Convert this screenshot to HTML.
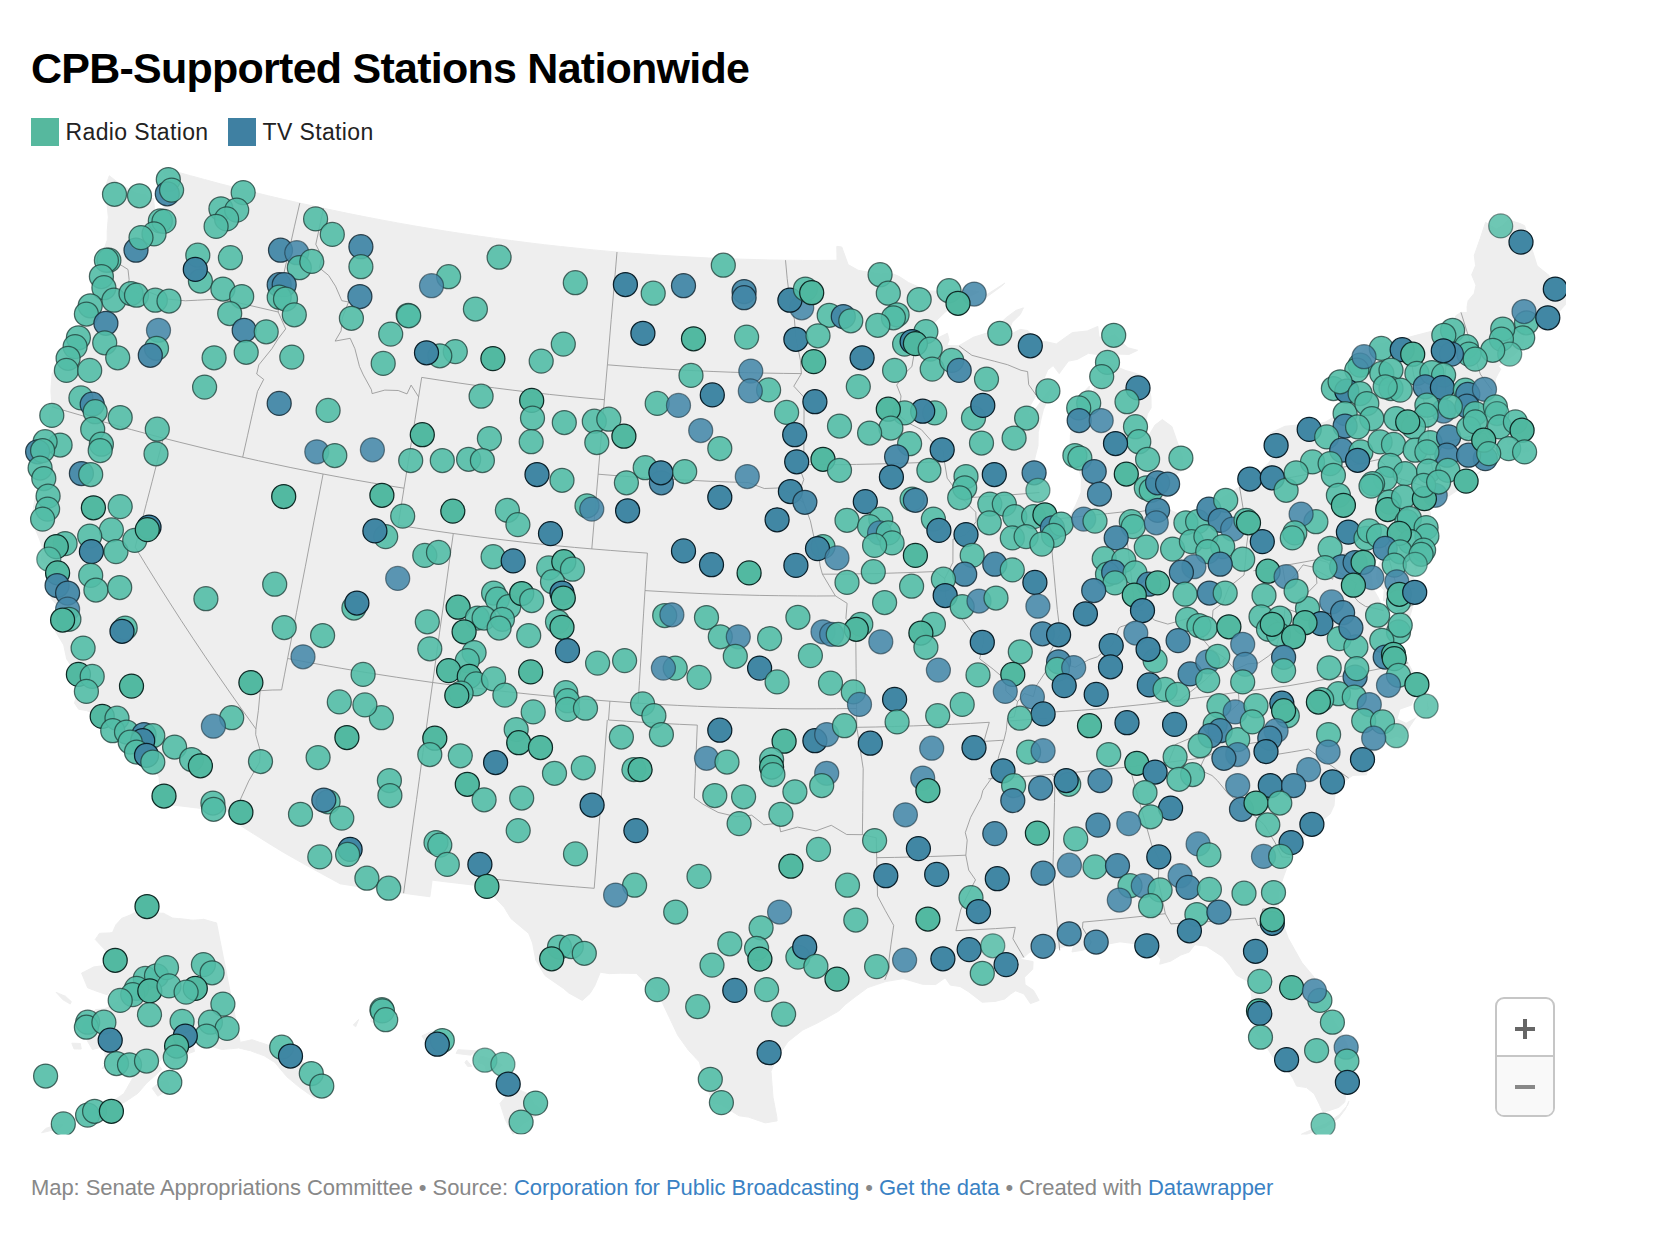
<!DOCTYPE html>
<html lang="en">
<head>
<meta charset="utf-8">
<title>CPB-Supported Stations Nationwide</title>
<style>
html,body{margin:0;padding:0;background:#fff;}
body{width:1662px;height:1234px;position:relative;overflow:hidden;font-family:"Liberation Sans",Arial,sans-serif;}
#title{position:absolute;left:31px;top:40px;margin:0;font-size:43px;line-height:56px;font-weight:700;color:#000;white-space:nowrap;letter-spacing:-0.75px;transform-origin:0 50%;}
.leg{position:absolute;top:118px;height:28px;line-height:28px;font-size:23px;letter-spacing:0.38px;color:#222;white-space:nowrap;}
.leg i{position:absolute;left:0;top:0;width:28px;height:28px;display:block;}
.leg span{position:absolute;left:34.5px;top:0;}
#foot{position:absolute;left:31px;top:1173px;font-size:22px;letter-spacing:-0.06px;line-height:30px;color:#888;white-space:nowrap;}
#foot a{color:#3a82c4;text-decoration:none;}
#zoom{position:absolute;left:1495px;top:997px;width:56px;height:116px;border:2px solid #c6c6c6;border-radius:9px;background:#fff;overflow:hidden;}
#zoom .m{position:absolute;left:0;top:56px;width:56px;height:60px;background:#f9f9f9;border-top:2px solid #c6c6c6;}
#zoom b{position:absolute;display:block;}
#map{position:absolute;left:0;top:0;}
</style>
</head>
<body>
<h1 id="title">CPB-Supported Stations Nationwide</h1>
<div class="leg" style="left:31px"><i style="background:#56b89e"></i><span>Radio Station</span></div>
<div class="leg" style="left:228px"><i style="background:#3f80a2"></i><span>TV Station</span></div>
<svg id="map" width="1662" height="1234" viewBox="0 0 1662 1234">
<defs><clipPath id="mc"><rect x="0" y="160" width="1566" height="974.5"/></clipPath></defs>
<g clip-path="url(#mc)">
<path d="M109.3 175.7L119.2 183.4L131.4 190.5L137.5 193.9L145.5 194.3L149.5 198.6L153.6 198.6L154.4 207.7L153.3 218.9L150.2 229.6L139.6 234.2L153.2 231.2L157.4 220.1L164.1 208.5L162.3 196.5L162.4 186.9L165.7 178.3L162.5 167.8L176.5 171.8L190.5 175.7L204.5 179.5L220.4 183.8L236.4 187.9L252.4 191.9L268.4 195.8L284.5 199.6L300.5 203.2L316.7 206.8L332.8 210.2L348.9 213.6L365.1 216.8L381.3 219.9L397.5 222.9L413.8 225.8L430.0 228.5L446.3 231.2L462.6 233.7L478.9 236.1L495.3 238.4L511.6 240.6L528.0 242.7L544.4 244.7L560.8 246.5L577.2 248.2L593.6 249.9L610.0 251.4L626.4 252.8L642.9 254.0L659.3 255.2L675.8 256.2L692.3 257.1L708.7 258.0L725.2 258.7L741.7 259.2L756.3 259.6L770.9 260.0L785.5 260.2L802.6 260.4L819.8 260.4L837.0 260.3L836.8 246.3L841.8 247.0L848.1 264.6L858.2 270.3L869.4 272.3L880.6 274.2L890.6 272.8L899.4 276.6L908.4 282.5L918.6 286.9L928.8 290.9L941.4 291.4L947.6 289.9L963.9 289.0L979.1 291.7L969.0 297.0L958.9 302.2L945.0 312.3L936.1 320.9L926.4 331.0L915.8 340.4L921.0 343.1L936.2 338.7L947.4 333.3L949.1 339.9L946.8 345.6L959.2 345.6L973.3 337.3L986.6 333.1L995.7 327.6L1006.4 317.5L1016.0 310.4L1023.4 307.9L1020.2 314.5L1011.9 322.6L1008.8 332.2L1009.1 335.1L1020.2 329.4L1028.0 330.6L1036.6 341.0L1047.0 341.9L1056.3 344.0L1067.1 336.2L1072.4 332.6L1087.2 331.0L1097.8 326.4L1099.0 337.1L1108.6 337.1L1114.8 334.5L1121.7 342.2L1128.1 347.8L1137.6 350.3L1129.0 354.4L1117.2 354.0L1108.1 358.9L1100.3 354.9L1088.4 353.3L1077.3 359.4L1068.4 361.1L1061.5 370.4L1059.2 373.6L1053.2 365.6L1047.8 369.8L1041.8 383.5L1036.2 395.2L1030.5 405.0L1027.5 416.5L1036.1 408.3L1043.1 398.3L1051.8 387.0L1048.4 397.8L1043.4 409.5L1041.0 419.1L1038.2 432.5L1038.0 445.6L1034.6 459.1L1034.9 472.6L1038.9 489.5L1040.4 503.7L1046.3 515.2L1051.7 522.3L1057.4 524.0L1064.0 521.1L1069.7 516.8L1076.2 504.1L1081.1 492.3L1081.5 478.0L1076.3 461.6L1070.1 448.3L1070.4 435.1L1072.7 423.6L1073.6 409.2L1077.5 398.7L1089.4 386.1L1088.6 395.6L1089.9 402.2L1092.8 393.3L1096.3 381.6L1104.3 378.1L1099.4 370.0L1107.7 362.3L1115.5 366.2L1125.8 370.6L1133.4 372.6L1144.5 376.4L1145.3 384.6L1149.2 388.2L1151.0 397.4L1151.1 407.9L1147.3 414.1L1145.8 422.6L1139.6 427.1L1139.9 439.6L1148.8 435.4L1155.0 425.1L1162.3 419.6L1171.9 426.6L1177.5 442.8L1182.6 457.9L1182.0 470.5L1174.7 475.3L1172.1 482.5L1167.8 485.7L1167.8 495.2L1163.6 501.4L1160.8 509.4L1171.2 510.6L1183.1 515.8L1190.3 516.7L1202.1 511.2L1210.3 509.9L1220.3 498.9L1232.5 491.3L1241.3 485.5L1250.1 479.6L1258.4 472.9L1268.6 463.1L1274.6 453.6L1278.0 446.2L1271.6 439.7L1270.4 433.1L1284.8 426.3L1300.9 424.7L1309.4 425.8L1325.2 422.2L1332.5 417.7L1336.9 412.6L1344.2 407.6L1339.7 397.1L1342.0 390.9L1335.8 387.2L1345.4 377.5L1353.3 361.7L1359.6 353.4L1366.4 347.3L1371.5 346.1L1388.9 342.1L1406.3 337.9L1417.0 335.1L1427.7 332.3L1440.4 329.0L1453.1 325.7L1455.9 315.7L1461.0 312.4L1467.3 312.6L1467.1 306.9L1468.1 300.8L1474.2 293.4L1476.0 285.2L1471.7 274.8L1475.6 265.6L1474.3 255.2L1480.2 238.5L1485.6 222.3L1496.1 229.2L1502.9 225.3L1508.4 219.8L1520.2 223.6L1524.6 225.7L1531.0 245.9L1537.1 265.8L1549.0 275.4L1551.8 286.2L1557.9 289.0L1568.5 296.6L1570.3 299.5L1562.0 308.4L1557.0 314.6L1547.2 323.5L1542.3 330.0L1534.3 326.6L1532.1 333.1L1526.1 327.0L1523.9 333.5L1523.6 342.2L1517.8 350.9L1512.4 356.3L1505.2 360.3L1498.4 366.1L1500.7 369.3L1497.9 374.0L1495.7 378.5L1494.0 387.5L1492.0 390.3L1491.3 397.1L1492.2 400.4L1496.2 403.6L1499.2 404.3L1497.3 407.9L1493.5 411.3L1491.7 418.4L1494.8 419.5L1500.6 421.8L1504.9 430.3L1510.6 435.4L1516.5 436.1L1522.6 432.4L1521.0 426.7L1515.8 423.4L1515.5 422.4L1521.1 423.9L1525.5 430.5L1526.3 435.3L1518.0 439.6L1509.7 445.0L1507.5 443.2L1507.0 437.9L1501.1 445.0L1498.1 449.7L1495.0 452.1L1492.9 446.4L1489.8 443.3L1486.4 441.1L1487.8 448.5L1489.0 454.1L1488.5 457.7L1478.7 461.8L1472.4 464.2L1466.0 467.0L1451.1 470.7L1444.3 476.7L1436.0 483.7L1430.6 490.0L1428.2 494.4L1425.8 498.9L1421.8 503.7L1421.4 508.4L1428.3 507.1L1430.4 513.2L1430.9 526.6L1431.8 534.1L1428.4 544.6L1426.3 550.5L1420.1 561.9L1415.6 569.5L1414.2 563.3L1405.4 559.4L1396.7 555.6L1392.9 548.7L1392.5 544.2L1393.5 554.4L1400.3 562.5L1401.5 568.0L1412.2 575.3L1413.6 578.8L1416.4 592.5L1412.0 608.8L1406.9 626.5L1401.3 642.3L1397.9 636.1L1397.5 624.7L1400.4 610.6L1396.5 610.3L1392.4 600.8L1383.5 600.7L1384.2 590.2L1378.6 584.5L1376.2 577.3L1377.4 567.4L1381.4 558.9L1380.8 553.3L1378.4 558.8L1369.1 567.2L1371.8 577.4L1372.5 587.7L1378.5 598.0L1383.5 610.7L1370.1 607.4L1362.2 605.1L1373.3 608.6L1386.6 615.5L1387.5 626.8L1389.8 637.8L1392.1 648.9L1394.0 650.4L1401.3 649.6L1402.8 652.4L1408.1 662.8L1416.8 679.4L1424.2 689.3L1428.5 709.1L1416.3 716.8L1408.8 728.0L1403.9 738.6L1396.6 736.3L1386.5 740.2L1379.9 746.1L1372.7 753.7L1368.9 760.9L1366.5 774.8L1352.9 775.4L1348.7 778.1L1339.9 786.2L1334.8 795.9L1334.0 805.6L1330.1 813.9L1315.8 825.9L1303.3 838.3L1300.7 845.5L1293.1 853.2L1290.2 858.6L1282.8 878.7L1278.1 893.5L1278.6 907.8L1279.7 910.6L1283.1 924.1L1288.3 938.4L1295.1 950.5L1301.9 962.6L1313.0 975.9L1321.5 987.3L1322.5 1001.5L1331.9 1016.1L1335.1 1023.1L1340.9 1031.5L1345.8 1040.8L1348.6 1048.9L1350.0 1071.2L1350.9 1083.0L1346.3 1090.5L1344.8 1102.0L1338.8 1107.4L1327.3 1111.2L1323.0 1112.2L1319.3 1104.2L1314.2 1093.8L1306.4 1087.6L1296.6 1086.1L1293.1 1078.8L1286.4 1068.2L1281.5 1069.7L1275.1 1060.5L1266.4 1046.8L1260.9 1039.0L1254.6 1032.4L1259.9 1025.3L1260.5 1017.7L1253.7 1026.2L1249.4 1016.7L1249.4 1009.9L1251.8 996.4L1248.8 981.9L1236.3 975.0L1230.1 965.7L1222.3 956.5L1206.3 946.2L1194.8 944.7L1189.2 952.1L1180.8 955.0L1170.8 961.1L1159.7 964.2L1160.8 959.2L1156.3 954.1L1145.7 948.9L1133.2 943.5L1120.1 941.8L1099.5 945.7L1087.9 948.6L1082.2 950.3L1072.0 951.9L1074.4 941.6L1070.3 935.2L1067.3 945.9L1054.7 948.8L1043.4 948.2L1037.1 949.4L1029.2 952.6L1023.8 957.4L1018.4 958.9L1033.1 961.6L1032.7 969.2L1024.5 977.2L1025.0 984.6L1033.5 990.4L1039.1 1000.4L1030.5 1003.6L1024.0 994.0L1015.6 990.8L1010.9 993.8L1004.7 999.0L995.1 1001.4L982.1 1002.2L975.3 996.9L968.5 991.7L960.1 986.5L950.3 985.1L945.2 977.8L935.7 984.5L922.7 984.3L903.2 978.6L885.4 981.6L867.8 987.6L854.9 997.1L845.2 1004.6L838.8 1011.0L827.9 1017.2L816.9 1023.3L802.8 1030.0L787.9 1041.8L781.2 1051.7L775.5 1060.2L771.0 1071.3L772.0 1084.2L773.0 1097.2L776.8 1116.8L777.1 1120.9L765.2 1122.9L748.4 1117.1L739.0 1115.8L721.1 1104.6L713.4 1103.2L705.6 1084.5L699.4 1062.0L688.6 1050.5L677.7 1035.2L668.7 1016.1L662.8 1003.6L656.9 991.0L645.9 983.3L636.4 973.4L620.6 973.2L609.2 973.6L600.3 972.2L594.8 985.6L590.0 993.5L582.3 1000.4L568.8 993.0L563.6 988.5L545.1 975.7L535.8 960.3L532.6 943.1L528.7 933.4L510.9 918.5L504.1 907.3L494.9 897.5L485.8 887.6L484.7 886.4L471.1 884.8L457.4 883.2L444.8 881.7L432.1 880.1L429.9 896.7L416.7 895.0L403.6 893.2L388.6 891.1L373.7 888.9L357.0 886.4L340.2 883.8L321.3 873.5L302.4 863.1L283.7 852.5L266.4 841.9L249.2 831.1L232.1 820.2L236.5 812.3L216.6 810.2L196.7 807.9L179.3 805.8L161.8 803.7L159.3 797.7L159.9 791.0L159.2 777.3L152.1 765.7L147.3 759.2L139.6 751.6L133.5 750.5L132.9 739.9L123.9 738.1L113.3 729.7L111.4 724.6L100.8 716.9L86.7 710.6L78.6 709.2L74.5 703.1L80.1 684.4L75.7 672.7L66.7 659.0L63.7 644.9L55.2 630.9L58.3 620.0L57.8 618.3L63.4 613.6L58.1 606.3L51.1 598.4L50.5 582.6L53.1 572.4L54.4 570.8L41.1 560.3L42.9 549.1L40.0 540.4L31.6 520.2L34.4 502.2L37.6 488.7L29.0 468.4L29.5 461.0L39.0 449.8L43.1 441.3L49.6 427.5L49.5 415.7L52.0 406.7L50.9 390.7L52.1 373.8L63.4 357.3L70.8 345.9L75.9 335.7L84.3 313.6L89.2 301.9L94.2 289.0L100.5 269.1L102.3 256.0L104.8 247.1L107.2 240.1L107.2 231.1L108.3 217.1L107.1 205.1L105.9 193.2L106.6 183.3L109.3 175.7ZM1427.4 503.1L1431.6 502.5L1441.0 499.5L1448.8 496.1L1459.9 488.7L1465.9 483.7L1481.0 470.9L1475.2 475.1L1469.9 470.2L1462.0 479.6L1453.9 481.7L1449.3 483.2L1440.8 486.8L1438.2 488.2L1432.3 493.5L1429.8 494.8L1426.4 498.7L1427.4 503.1ZM1526.5 446.2L1530.0 450.6L1523.9 452.4L1522.0 450.9L1526.5 446.2ZM1511.0 447.4L1515.6 450.7L1507.0 453.9L1507.5 450.3L1511.0 447.4ZM1348.8 1101.3L1345.3 1109.3L1338.8 1117.9L1326.3 1126.6L1314.8 1131.0L1301.8 1136.7L1301.4 1134.1L1314.4 1128.4L1325.8 1123.7L1339.3 1114.8L1347.7 1105.2L1348.8 1101.3ZM1004.9 283.1L1001.4 286.3L987.1 296.7L986.4 294.9L995.7 289.0L1004.9 283.1ZM329.8 1092.9L324.8 1094.6L319.9 1096.4L314.9 1098.1L309.4 1094.4L304.1 1090.6L298.8 1086.8L294.8 1083.5L290.8 1080.1L286.8 1076.7L282.8 1072.0L278.8 1067.2L274.9 1062.4L271.2 1060.2L267.6 1058.0L264.1 1055.7L259.5 1054.1L255.1 1052.5L250.6 1050.8L246.6 1049.9L242.6 1048.9L238.6 1047.9L234.4 1048.4L230.2 1048.8L226.0 1049.1L221.8 1049.5L217.7 1048.3L213.6 1047.1L209.5 1045.9L207.2 1042.2L204.8 1038.5L200.7 1039.9L196.6 1041.1L192.5 1042.4L193.5 1046.9L194.6 1051.4L190.8 1052.7L187.0 1054.0L183.2 1056.7L179.4 1059.3L175.6 1062.0L171.7 1064.6L173.5 1059.3L173.9 1053.0L174.3 1046.8L176.9 1043.9L179.5 1040.9L182.1 1037.9L178.4 1039.8L174.7 1041.8L171.0 1043.7L168.3 1049.0L165.5 1054.3L161.7 1058.9L157.7 1063.5L159.7 1066.4L161.8 1069.4L158.1 1072.8L154.3 1076.3L150.5 1079.7L146.7 1083.0L143.8 1086.4L140.9 1089.8L138.0 1093.2L133.8 1096.1L129.6 1098.9L125.3 1101.7L121.8 1103.6L118.2 1105.5L114.7 1107.4L110.0 1110.2L105.2 1113.0L101.0 1113.4L96.7 1113.8L92.4 1114.1L89.4 1116.4L86.5 1118.6L81.3 1119.8L76.2 1121.0L77.9 1114.7L82.1 1114.7L86.3 1114.6L91.3 1112.4L96.3 1110.0L101.2 1107.7L106.1 1105.3L110.6 1102.4L115.0 1099.6L119.4 1096.7L123.7 1093.7L126.9 1088.3L130.0 1082.8L133.1 1077.3L135.0 1074.1L136.8 1070.9L133.5 1069.4L130.2 1067.9L127.0 1066.4L125.4 1070.2L123.7 1074.1L120.6 1071.2L117.4 1068.3L114.3 1065.4L110.3 1066.5L106.2 1067.6L102.1 1068.6L105.8 1063.2L105.4 1058.5L104.9 1053.8L103.7 1050.4L102.5 1046.9L99.2 1047.8L95.8 1048.7L92.4 1049.5L89.8 1045.1L87.3 1040.7L85.6 1036.4L84.0 1032.2L82.5 1027.9L83.2 1024.1L87.4 1019.5L91.6 1014.9L95.5 1009.6L98.5 1009.4L101.5 1009.2L104.5 1008.9L107.6 1007.4L110.8 1005.8L114.5 1003.6L118.2 1001.4L118.2 996.1L118.2 990.9L115.4 991.0L112.5 991.1L109.7 991.2L107.5 994.8L104.0 993.7L100.5 992.5L96.9 991.3L93.5 990.0L90.5 988.9L87.6 987.7L85.6 982.8L83.6 978.0L81.6 973.1L84.7 971.6L87.7 970.1L90.7 968.5L93.7 966.9L97.0 966.5L100.3 966.1L103.5 965.6L106.8 965.1L105.4 970.9L108.2 971.5L111.1 972.0L113.9 970.9L116.7 969.7L118.7 968.0L120.8 966.3L118.2 964.7L115.6 963.1L113.0 961.4L110.4 959.8L107.8 958.1L106.4 953.9L105.0 949.8L102.5 947.2L100.1 944.7L97.7 942.1L95.3 939.5L97.4 936.4L99.4 933.4L102.7 933.2L106.0 933.1L109.2 932.9L112.5 932.6L114.2 928.7L116.0 924.7L118.9 921.5L121.8 918.3L124.8 917.2L127.7 916.0L130.7 914.8L133.3 913.4L136.0 912.1L138.6 910.7L141.3 909.3L143.8 907.9L146.4 906.5L149.2 908.6L152.0 910.7L154.9 912.8L157.8 913.0L160.7 913.2L163.6 913.3L166.6 914.9L169.6 916.5L172.6 918.1L175.6 918.4L178.6 918.6L181.6 918.8L184.5 919.2L187.3 919.5L190.2 919.9L193.0 920.2L195.7 920.0L198.4 919.8L201.1 919.6L203.8 919.3L207.0 920.3L210.1 921.2L213.3 922.1L216.5 922.9L218.2 931.3L219.8 939.7L221.5 948.1L223.2 956.6L224.9 965.0L226.6 973.5L228.2 982.0L229.9 990.6L231.6 999.2L233.4 1007.8L235.1 1016.4L236.8 1025.0L238.5 1033.6L240.2 1042.3L244.2 1041.5L248.2 1040.6L252.1 1039.7L256.0 1041.1L259.9 1042.4L263.8 1043.6L267.8 1045.0L271.9 1046.2L274.2 1043.3L276.4 1040.2L278.9 1042.9L281.4 1045.6L285.9 1047.0L290.5 1048.3L295.1 1053.7L297.9 1056.9L300.8 1060.1L305.1 1064.2L309.4 1068.2L313.1 1072.5L317.5 1073.3L321.8 1074.0L326.2 1074.7L328.5 1076.6L331.3 1084.0L330.5 1088.4L329.8 1092.9ZM167.4 1080.4L169.7 1088.2L165.8 1090.9L161.8 1093.6L157.8 1096.2L155.0 1092.3L152.2 1088.3L156.0 1085.1L159.8 1081.8L163.6 1081.1L167.4 1080.4ZM80.3 1043.5L81.3 1049.0L77.6 1049.0L74.0 1048.9L71.8 1043.2L76.0 1043.3L80.3 1043.5ZM56.2 992.4L58.4 994.8L60.6 997.2L62.8 999.6L65.2 1001.1L67.7 1002.5L70.2 1004.0L71.3 1001.6L68.3 998.9L65.4 996.2L62.3 995.0L59.3 993.7L56.2 992.4ZM63.2 1124.0L59.0 1129.8L54.5 1130.3L50.1 1130.7L45.8 1131.8L41.6 1132.8L45.8 1128.4L49.8 1127.1L53.7 1125.7L57.7 1124.3L60.5 1124.1L63.2 1124.0ZM86.2 1115.3L83.8 1118.5L81.4 1121.8L78.2 1120.3L75.0 1118.8L78.8 1114.1L82.5 1114.7L86.2 1115.3ZM507.0 1084.0L528.1 1093.9L534.1 1103.9L543.3 1111.6L523.0 1123.7L513.2 1134.5L505.4 1120.1L500.0 1103.4L507.7 1094.1L507.0 1084.0ZM480.6 1056.0L492.9 1059.6L502.3 1065.2L494.6 1071.1L486.9 1071.9L484.8 1065.2L477.8 1061.9L480.6 1056.0ZM432.4 1031.1L440.4 1040.4L443.9 1046.0L438.6 1047.4L428.2 1045.9L421.9 1035.9L432.4 1031.1ZM379.6 1011.2L386.5 1014.2L385.4 1021.6L379.5 1024.5L370.8 1021.5L371.5 1014.1L379.6 1011.2ZM457.9 1049.7L476.4 1050.8L470.8 1055.2L456.1 1053.4L457.9 1049.7ZM466.6 1060.1L471.9 1066.3L467.7 1066.4L464.9 1062.6L466.6 1060.1ZM358.6 1019.5L355.7 1026.8L353.3 1024.9L358.6 1019.5Z" fill="#eeeeee" stroke="#eeeeee" stroke-width="1" stroke-linejoin="round"/>
<path d="M1421.9 688.7L1414.7 697.9L1411.7 705.5L1400.3 709.4L1397.6 718.8L1406.1 722.8L1415.3 717.8L1426.1 710.8L1427.4 708.2L1426.9 697.2L1421.9 688.7ZM1411.8 677.4L1400.5 681.1L1389.0 684.9L1390.0 689.7L1401.7 687.2L1413.4 684.7L1411.8 677.4Z" fill="#ffffff"/>
<path d="M103.6 256.4L115.4 261.9L122.3 265.9L128.0 269.5L129.1 279.5L127.8 288.8L141.1 294.5L149.8 292.4L158.3 295.7L166.9 299.0L176.1 299.9L185.3 300.8L197.5 300.2L209.8 299.5L226.3 299.8L243.6 304.0L260.9 308.0L278.2 312.0M299.8 203.1L294.5 226.2L289.3 249.5L284.0 272.7L278.6 296.1L278.2 312.0M278.2 312.0L285.7 328.9L278.2 338.7L271.9 348.7L258.8 364.9L256.7 374.0L263.7 379.4L257.5 391.4L252.5 413.3L247.6 435.3L242.7 457.2M52.0 406.7L67.8 411.5L83.6 416.1L99.5 420.7L115.4 425.2L131.4 429.6L147.3 433.9L163.3 438.1L179.1 442.1L195.0 446.0L210.8 449.9L226.7 453.6L242.7 457.2L258.7 460.8L274.8 464.2L290.9 467.6L307.0 470.8L323.1 474.0L339.2 477.0L355.4 480.0L371.6 482.8L387.8 485.6L404.0 488.2M163.3 438.1L157.7 459.9L152.1 481.7L146.4 503.5L140.8 525.3L135.2 547.2L146.4 565.6L157.8 583.9L169.4 602.2L181.2 620.5L193.2 638.7L205.4 656.9L217.8 675.0L230.3 693.0L243.0 711.0L255.9 728.9M255.9 728.9L258.4 710.3L260.2 690.7L272.2 690.0L281.6 689.9L284.6 674.2L287.6 658.5L292.1 635.5L296.5 612.4L300.9 589.3L305.4 566.2L309.8 543.1L314.2 520.1L318.7 497.0L323.1 474.0M255.9 728.9L255.7 734.6L260.3 750.9L259.6 762.2L248.7 781.1L239.2 802.1L236.5 812.3M287.6 658.5L305.7 661.9L323.8 665.2L341.9 668.4L360.0 671.5L378.1 674.4L396.3 677.2L414.5 679.9L432.7 682.5L452.3 685.1L471.9 687.6L491.6 690.0L511.3 692.2L531.0 694.3L550.7 696.2L570.4 698.0L590.1 699.7L609.9 701.2L624.0 702.2L638.1 703.2L657.9 704.4L677.8 705.4L697.6 706.3L717.5 707.1L737.4 707.7L757.2 708.2L777.1 708.6L797.0 708.8L816.8 708.8L836.7 708.7L856.6 708.5M403.6 893.2L406.8 869.9L410.0 846.5L413.2 823.1L416.5 799.7L419.7 776.3L422.9 752.8L426.2 729.4L429.4 705.9L432.7 682.5L436.1 657.6L439.5 632.8L443.0 608.0L446.4 583.1L449.8 558.3L453.3 533.5M404.0 488.2L401.1 506.7L398.1 525.3L416.5 528.1L434.9 530.9L453.3 533.5L470.5 535.8L487.8 538.0L505.1 540.1L522.4 542.1L539.7 544.0L557.1 545.8L574.4 547.4L591.8 548.9L610.3 550.4L628.8 551.8L647.4 553.1L646.2 571.8L645.0 590.6L643.6 613.1L642.2 635.6L640.9 658.1L639.5 680.6L638.1 703.2M404.0 488.2L407.7 465.4L411.3 442.5L415.0 419.7L418.6 396.9L421.7 377.4L439.9 380.2L458.1 382.9L476.4 385.5L494.6 387.9L512.9 390.2L531.2 392.4L549.5 394.4L567.8 396.3L586.1 398.1L604.4 399.7M323.5 208.3L319.7 226.3L315.8 244.3L322.1 257.0L319.3 267.8L328.6 275.4L335.5 286.2L341.8 300.7L348.6 302.0L342.3 317.9L341.1 330.9L335.1 341.1L350.2 338.3L354.9 348.7L359.5 366.6L363.3 374.9L371.4 389.7L372.1 393.6L384.8 390.1L398.2 390.5L407.0 393.9L411.1 385.1L418.6 396.9M617.0 252.0L615.1 274.4L613.2 297.0L611.2 319.5L609.3 342.1L607.4 364.8L605.9 382.2L604.4 399.7L602.3 424.5L600.2 449.3L598.1 474.2L596.0 499.1L593.9 524.0L591.8 548.9M607.4 364.8L625.0 366.2L642.6 367.5L660.2 368.7L677.9 369.8L695.5 370.7L713.1 371.5L730.8 372.2L748.4 372.7L766.1 373.1L783.7 373.4L801.4 373.6M598.1 474.2L616.8 475.7L635.6 477.1L654.3 478.3L673.1 479.4L691.9 480.4L710.6 481.3L729.4 482.0L748.2 482.5L764.3 488.5L777.9 488.0L788.7 492.3L803.6 502.5M645.0 590.6L664.0 591.7L683.0 592.7L702.1 593.6L721.1 594.3L740.2 594.9L759.2 595.4L778.3 595.7L797.3 595.9L816.4 596.0L835.4 595.9M609.9 701.2L608.5 720.0L626.3 721.2L644.0 722.4L661.8 723.4L679.5 724.3L697.3 725.1L696.3 749.4L695.3 773.7L694.3 798.0L703.1 804.3L718.1 812.4L736.4 816.7L751.7 815.2L763.8 824.8L779.1 823.2L780.6 831.8L797.5 827.1L815.9 830.9L831.3 825.3L846.7 834.5L862.4 834.7L876.3 837.8L876.7 857.7L877.1 876.8L877.5 895.9L885.4 910.7L893.7 925.4L891.0 944.2L889.1 959.2L889.3 968.5L884.8 979.8M482.8 877.9L501.3 879.9L519.9 881.8L538.4 883.6L557.0 885.3L575.6 886.8L594.2 888.3L596.1 864.3L597.9 840.3L599.8 816.2L601.7 792.2L603.6 768.1L605.4 744.0L607.3 719.9M785.5 260.2L787.2 278.6L789.5 297.1L794.4 319.4L796.0 338.6L800.4 360.2L801.4 373.6L793.8 386.2L804.1 397.4L804.0 419.8L803.9 442.2L803.8 464.7L801.1 472.1L803.8 479.6L799.6 490.9L803.6 502.5M803.8 464.7L821.4 464.7L839.0 464.6L856.6 464.4L874.1 464.0L891.7 463.6L909.3 463.0L926.9 462.3L944.4 461.5M803.6 502.5L810.4 520.9L814.5 539.7L817.9 548.7L820.1 565.9L822.4 574.2L828.9 585.1L835.4 595.9L847.1 603.3L845.9 618.4L855.7 629.2L855.9 649.0L856.1 668.9L856.4 688.7L856.6 708.5L856.8 727.3L860.0 748.0L863.2 768.6L862.9 790.6L862.7 812.7L862.4 834.7M822.4 574.2L841.3 574.1L860.1 573.8L879.0 573.5L897.9 572.9L916.8 572.3L935.6 571.5L944.7 578.6M856.8 727.3L875.8 727.0L894.7 726.5L913.6 725.9L932.6 725.2L951.5 724.4L970.4 723.4L989.3 722.3L983.9 741.4L1003.9 740.2M915.9 343.3L911.9 366.6L906.7 371.6L896.7 385.0L901.0 396.0L900.0 405.4L900.4 416.6L908.6 423.0L921.3 429.6L931.9 441.5L943.0 450.3L944.4 461.5L947.2 478.2L954.5 488.1L961.8 498.0L975.8 512.2L976.1 521.6L966.1 534.6L953.0 539.1L952.9 562.4L944.7 578.6L945.5 595.5L947.9 604.1L961.5 618.4L972.3 632.9L983.8 633.3L983.5 642.4L979.6 658.8L993.3 669.3L1005.7 679.8L1005.9 691.1L1017.6 701.6L1014.2 716.9L1007.5 718.1L1006.2 730.6L1003.9 740.2L998.9 755.6L994.9 773.5L982.9 790.4L980.9 798.1L970.6 817.4L965.3 832.7L967.2 840.2L965.8 855.2L968.7 870.1L975.5 879.9L966.9 896.4L960.7 909.9L955.9 930.7L975.7 929.7L995.5 928.6L1015.3 927.3L1012.9 938.7L1023.8 957.4M876.7 857.7L894.6 857.4L912.4 857.0L930.2 856.5L948.0 855.9L965.8 855.2M959.2 346.0L971.9 355.3L983.1 358.3L994.3 361.2L1007.5 364.7L1021.0 370.3L1027.6 371.6L1028.7 384.6L1036.2 395.2M961.8 498.0L977.4 497.1L992.9 496.1L1008.4 495.0L1023.9 493.8L1039.4 492.5M1047.9 669.0L1049.0 653.8L1060.3 633.9L1057.3 609.7L1055.2 587.1L1053.2 564.6L1051.2 542.0L1049.2 519.5M1135.3 611.0L1132.5 586.8L1129.7 562.5L1126.9 538.2L1124.1 514.0M1058.3 518.7L1074.7 517.1L1091.1 515.4L1107.4 513.6L1123.8 511.8L1124.1 514.0L1142.6 511.2L1161.2 508.2M1017.6 701.6L1024.3 693.5L1033.4 696.6L1036.1 686.2L1044.8 673.0L1047.9 669.0L1060.8 662.2L1075.0 667.3L1088.9 659.6L1097.4 656.8L1105.4 650.3L1112.2 645.1L1119.0 628.0L1120.9 626.7L1135.7 622.3L1135.3 611.0L1144.4 609.9L1154.3 620.1L1167.8 624.1L1178.4 621.2L1188.8 618.2L1201.9 628.2L1212.3 619.8L1213.0 610.2L1222.9 603.0L1226.8 592.2L1229.1 586.9L1244.0 575.0L1245.7 558.8L1246.5 546.1L1247.8 536.7L1243.7 511.9L1239.6 487.1M1201.9 628.2L1203.6 640.1L1210.7 648.6L1224.7 657.9L1216.5 668.6L1205.6 679.7L1195.5 687.9L1179.8 700.2M1008.6 721.0L1022.9 720.0L1037.1 718.9L1051.4 717.8L1050.4 712.2L1065.8 711.2L1081.3 710.2L1096.8 709.1L1113.4 707.5L1130.0 705.8L1146.6 704.1L1163.2 702.2L1179.8 700.2L1199.4 697.6L1218.9 694.9L1238.5 692.0L1254.9 690.1L1271.4 688.0L1287.9 685.9L1308.0 682.4L1328.1 678.8L1348.1 675.0L1368.1 671.1L1388.1 667.0L1408.1 662.8M1238.5 692.0L1239.0 703.3L1228.9 712.4L1214.9 720.1L1201.1 728.9L1190.2 738.3L1175.8 744.3L1168.4 762.3M988.3 778.8L1009.4 777.5L1030.5 776.0L1051.6 774.3L1071.1 772.7L1090.6 770.8L1110.1 768.9L1129.6 766.8L1149.0 764.6L1168.4 762.3L1186.5 760.0L1204.7 757.6M1204.7 757.6L1214.8 752.4L1224.9 747.2L1245.0 744.2L1265.1 741.1L1266.3 744.7L1270.8 747.8L1275.0 754.7L1291.7 752.0L1308.5 749.1L1321.8 758.9L1335.2 768.5L1348.7 778.1M1204.7 757.6L1199.0 769.7L1212.0 775.5L1217.3 780.5L1228.5 794.1L1237.9 801.8L1247.3 809.5L1264.3 824.8L1274.8 842.1L1281.9 856.9L1290.0 857.5M1129.6 766.8L1135.0 786.4L1140.5 805.9L1146.1 825.3L1151.6 844.8L1159.3 859.4L1158.2 880.6L1161.5 895.3L1165.3 913.7L1170.9 923.9L1192.0 922.7L1213.1 921.3L1234.2 919.7L1255.3 918.1L1258.0 925.6L1261.8 924.6L1261.5 916.0L1262.7 909.0L1278.8 908.9M1165.3 913.7L1144.7 916.0L1124.1 918.2L1103.5 920.2L1082.9 922.1L1082.5 927.8L1091.1 942.0L1087.9 948.6M1051.6 774.3L1054.9 777.8L1054.5 802.4L1053.9 826.9L1053.4 851.4L1052.7 875.8L1055.0 900.7L1057.3 925.5L1059.7 950.3M1224.7 657.9L1235.1 669.7L1247.6 663.9L1258.7 662.9L1268.8 655.9L1275.3 649.9L1279.4 635.9L1284.0 619.8L1284.9 608.2L1295.9 612.0L1305.4 595.0L1316.9 583.3L1315.9 570.1L1332.7 579.2L1334.2 571.6M1253.4 570.8L1272.3 567.6L1291.2 564.3L1310.0 560.9L1328.9 557.3L1347.7 553.6L1366.5 549.8L1385.3 545.8M1334.2 571.6L1327.4 562.2L1318.9 560.0L1312.4 567.0L1303.1 564.9L1296.3 573.7L1285.6 585.2L1282.5 565.9M1334.2 571.6L1339.6 572.5L1356.4 583.3L1352.9 595.5L1358.7 602.0L1365.5 606.4L1374.7 608.3L1383.5 610.7M1385.3 545.8L1389.7 541.0L1394.9 540.6M1385.3 545.8L1391.7 568.6L1398.1 591.5L1416.2 587.9M1396.2 611.5L1414.3 604.5M1394.9 540.6L1401.7 533.3L1409.5 521.9L1394.4 509.9L1393.7 506.6L1393.3 495.9L1401.8 479.0L1414.1 483.1L1426.5 487.1M1401.8 479.0L1392.5 475.7L1384.2 464.1L1378.7 459.5L1361.8 463.2L1344.9 466.8L1328.0 470.2L1311.1 473.5L1294.1 476.8L1277.1 479.9L1260.1 482.9L1258.4 472.9M1433.3 485.5L1430.2 482.4L1433.3 473.9L1430.9 460.0L1428.4 446.2L1428.2 432.7L1428.0 419.2L1424.5 403.7L1421.0 388.2L1416.8 388.0L1413.6 374.6L1410.5 356.1L1406.3 337.9M1449.6 414.7L1445.9 393.6L1444.8 378.4L1446.7 358.6L1455.4 344.8L1452.3 335.9L1453.2 326.1M1428.2 420.0L1438.9 417.3L1449.6 414.7L1465.0 411.3L1480.4 407.8L1490.6 398.5M1428.4 446.2L1443.5 442.7L1458.5 439.2L1473.6 435.6L1484.8 433.0L1490.6 443.1L1496.8 450.0M1473.7 436.0L1476.3 448.8L1478.9 461.7M1492.0 390.3L1480.3 374.1L1473.9 353.5L1467.4 333.0L1461.0 312.4" fill="none" stroke="#8f8f8f" stroke-width="0.8" stroke-linejoin="round"/>
<g stroke-width="1.25">
<circle cx="114.5" cy="194.3" r="12.0" fill="#52bca6" fill-opacity="0.9" stroke="#1d3b36" stroke-opacity="0.75"/>
<circle cx="139.5" cy="195.8" r="12.0" fill="#52bca6" fill-opacity="0.9" stroke="#1d3b36" stroke-opacity="0.75"/>
<circle cx="168.3" cy="179.5" r="12.0" fill="#52bca6" fill-opacity="0.9" stroke="#1d3b36" stroke-opacity="0.75"/>
<circle cx="167.3" cy="193.8" r="12.0" fill="#4287a7" fill-opacity="0.95" stroke="#152a36" stroke-opacity="0.85"/>
<circle cx="171.6" cy="190.1" r="12.0" fill="#52bca6" fill-opacity="0.9" stroke="#1d3b36" stroke-opacity="0.75"/>
<circle cx="243.2" cy="192.6" r="12.0" fill="#52bca6" fill-opacity="0.9" stroke="#1d3b36" stroke-opacity="0.75"/>
<circle cx="220.9" cy="208.8" r="12.0" fill="#52bca6" fill-opacity="0.9" stroke="#1d3b36" stroke-opacity="0.75"/>
<circle cx="236.7" cy="210.1" r="12.0" fill="#52bca6" fill-opacity="0.9" stroke="#1d3b36" stroke-opacity="0.75"/>
<circle cx="226.6" cy="218.9" r="12.0" fill="#52bca6" fill-opacity="0.9" stroke="#1d3b36" stroke-opacity="0.75"/>
<circle cx="216.1" cy="226.4" r="12.0" fill="#52bca6" fill-opacity="0.9" stroke="#1d3b36" stroke-opacity="0.75"/>
<circle cx="315.6" cy="218.9" r="12.0" fill="#52bca6" fill-opacity="0.9" stroke="#1d3b36" stroke-opacity="0.75"/>
<circle cx="332.3" cy="234.4" r="12.0" fill="#52bca6" fill-opacity="0.9" stroke="#1d3b36" stroke-opacity="0.75"/>
<circle cx="360.9" cy="246.7" r="12.0" fill="#4287a7" fill-opacity="0.95" stroke="#152a36" stroke-opacity="0.85"/>
<circle cx="360.9" cy="266.7" r="12.0" fill="#52bca6" fill-opacity="0.9" stroke="#1d3b36" stroke-opacity="0.75"/>
<circle cx="359.9" cy="296.5" r="12.0" fill="#4287a7" fill-opacity="0.95" stroke="#152a36" stroke-opacity="0.85"/>
<circle cx="351.4" cy="318.3" r="12.0" fill="#52bca6" fill-opacity="0.9" stroke="#1d3b36" stroke-opacity="0.75"/>
<circle cx="160.3" cy="220.9" r="12.0" fill="#52bca6" fill-opacity="0.9" stroke="#1d3b36" stroke-opacity="0.75"/>
<circle cx="164.0" cy="221.4" r="12.0" fill="#52bca6" fill-opacity="0.9" stroke="#1d3b36" stroke-opacity="0.75"/>
<circle cx="136.0" cy="250.2" r="12.0" fill="#4287a7" fill-opacity="0.95" stroke="#152a36" stroke-opacity="0.85"/>
<circle cx="154.0" cy="233.9" r="12.0" fill="#52bca6" fill-opacity="0.9" stroke="#1d3b36" stroke-opacity="0.75"/>
<circle cx="141.0" cy="237.6" r="12.0" fill="#52bca6" fill-opacity="0.9" stroke="#1d3b36" stroke-opacity="0.75"/>
<circle cx="108.9" cy="260.2" r="12.0" fill="#52bca6" fill-opacity="0.9" stroke="#1d3b36" stroke-opacity="0.75"/>
<circle cx="106.4" cy="260.2" r="12.0" fill="#52bca6" fill-opacity="0.9" stroke="#1d3b36" stroke-opacity="0.75"/>
<circle cx="101.4" cy="276.5" r="12.0" fill="#52bca6" fill-opacity="0.9" stroke="#1d3b36" stroke-opacity="0.75"/>
<circle cx="103.9" cy="287.7" r="12.0" fill="#52bca6" fill-opacity="0.9" stroke="#1d3b36" stroke-opacity="0.75"/>
<circle cx="113.9" cy="300.2" r="12.0" fill="#52bca6" fill-opacity="0.9" stroke="#1d3b36" stroke-opacity="0.75"/>
<circle cx="131.0" cy="293.5" r="12.0" fill="#52bca6" fill-opacity="0.9" stroke="#1d3b36" stroke-opacity="0.75"/>
<circle cx="136.5" cy="295.2" r="12.0" fill="#52bca6" fill-opacity="0.9" stroke="#1d3b36" stroke-opacity="0.75"/>
<circle cx="155.3" cy="300.2" r="12.0" fill="#52bca6" fill-opacity="0.9" stroke="#1d3b36" stroke-opacity="0.75"/>
<circle cx="169.0" cy="301.0" r="12.0" fill="#52bca6" fill-opacity="0.9" stroke="#1d3b36" stroke-opacity="0.75"/>
<circle cx="90.2" cy="305.8" r="12.0" fill="#52bca6" fill-opacity="0.9" stroke="#1d3b36" stroke-opacity="0.75"/>
<circle cx="86.4" cy="314.0" r="12.0" fill="#52bca6" fill-opacity="0.9" stroke="#1d3b36" stroke-opacity="0.75"/>
<circle cx="105.9" cy="323.3" r="12.0" fill="#4287a7" fill-opacity="0.95" stroke="#152a36" stroke-opacity="0.85"/>
<circle cx="78.4" cy="337.8" r="12.0" fill="#52bca6" fill-opacity="0.9" stroke="#1d3b36" stroke-opacity="0.75"/>
<circle cx="75.1" cy="346.6" r="12.0" fill="#52bca6" fill-opacity="0.9" stroke="#1d3b36" stroke-opacity="0.75"/>
<circle cx="104.7" cy="342.8" r="12.0" fill="#52bca6" fill-opacity="0.9" stroke="#1d3b36" stroke-opacity="0.75"/>
<circle cx="117.7" cy="357.8" r="12.0" fill="#52bca6" fill-opacity="0.9" stroke="#1d3b36" stroke-opacity="0.75"/>
<circle cx="68.1" cy="358.3" r="12.0" fill="#52bca6" fill-opacity="0.9" stroke="#1d3b36" stroke-opacity="0.75"/>
<circle cx="66.4" cy="370.4" r="12.0" fill="#52bca6" fill-opacity="0.9" stroke="#1d3b36" stroke-opacity="0.75"/>
<circle cx="89.7" cy="370.4" r="12.0" fill="#52bca6" fill-opacity="0.9" stroke="#1d3b36" stroke-opacity="0.75"/>
<circle cx="158.5" cy="330.3" r="12.0" fill="#4589aa" fill-opacity="0.88" stroke="#1c3440" stroke-opacity="0.6"/>
<circle cx="156.5" cy="348.3" r="12.0" fill="#52bca6" fill-opacity="0.9" stroke="#1d3b36" stroke-opacity="0.75"/>
<circle cx="150.3" cy="355.3" r="12.0" fill="#4287a7" fill-opacity="0.95" stroke="#152a36" stroke-opacity="0.85"/>
<circle cx="197.8" cy="255.2" r="12.0" fill="#52bca6" fill-opacity="0.9" stroke="#1d3b36" stroke-opacity="0.75"/>
<circle cx="200.4" cy="281.0" r="12.0" fill="#52bca6" fill-opacity="0.9" stroke="#1d3b36" stroke-opacity="0.75"/>
<circle cx="195.3" cy="269.4" r="12.0" fill="#3f86a3" fill-opacity="0.99" stroke="#0b1f29" stroke-opacity="1"/>
<circle cx="230.4" cy="257.7" r="12.0" fill="#52bca6" fill-opacity="0.9" stroke="#1d3b36" stroke-opacity="0.75"/>
<circle cx="222.9" cy="289.0" r="12.0" fill="#52bca6" fill-opacity="0.9" stroke="#1d3b36" stroke-opacity="0.75"/>
<circle cx="241.7" cy="296.5" r="12.0" fill="#52bca6" fill-opacity="0.9" stroke="#1d3b36" stroke-opacity="0.75"/>
<circle cx="229.7" cy="313.5" r="12.0" fill="#52bca6" fill-opacity="0.9" stroke="#1d3b36" stroke-opacity="0.75"/>
<circle cx="244.2" cy="330.3" r="12.0" fill="#4287a7" fill-opacity="0.95" stroke="#152a36" stroke-opacity="0.85"/>
<circle cx="266.2" cy="331.8" r="12.0" fill="#52bca6" fill-opacity="0.9" stroke="#1d3b36" stroke-opacity="0.75"/>
<circle cx="246.2" cy="352.3" r="12.0" fill="#52bca6" fill-opacity="0.9" stroke="#1d3b36" stroke-opacity="0.75"/>
<circle cx="214.1" cy="357.8" r="12.0" fill="#52bca6" fill-opacity="0.9" stroke="#1d3b36" stroke-opacity="0.75"/>
<circle cx="204.6" cy="387.1" r="12.0" fill="#52bca6" fill-opacity="0.9" stroke="#1d3b36" stroke-opacity="0.75"/>
<circle cx="280.5" cy="250.2" r="12.0" fill="#4287a7" fill-opacity="0.95" stroke="#152a36" stroke-opacity="0.85"/>
<circle cx="296.8" cy="252.7" r="12.0" fill="#4589aa" fill-opacity="0.88" stroke="#1c3440" stroke-opacity="0.6"/>
<circle cx="299.3" cy="267.7" r="12.0" fill="#52bca6" fill-opacity="0.9" stroke="#1d3b36" stroke-opacity="0.75"/>
<circle cx="311.8" cy="261.4" r="12.0" fill="#52bca6" fill-opacity="0.9" stroke="#1d3b36" stroke-opacity="0.75"/>
<circle cx="279.2" cy="284.7" r="12.0" fill="#4287a7" fill-opacity="0.95" stroke="#152a36" stroke-opacity="0.85"/>
<circle cx="284.2" cy="284.7" r="12.0" fill="#4287a7" fill-opacity="0.95" stroke="#152a36" stroke-opacity="0.85"/>
<circle cx="279.2" cy="297.2" r="12.0" fill="#52bca6" fill-opacity="0.9" stroke="#1d3b36" stroke-opacity="0.75"/>
<circle cx="285.5" cy="299.0" r="12.0" fill="#52bca6" fill-opacity="0.9" stroke="#1d3b36" stroke-opacity="0.75"/>
<circle cx="294.3" cy="314.8" r="12.0" fill="#52bca6" fill-opacity="0.9" stroke="#1d3b36" stroke-opacity="0.75"/>
<circle cx="291.8" cy="357.1" r="12.0" fill="#52bca6" fill-opacity="0.9" stroke="#1d3b36" stroke-opacity="0.75"/>
<circle cx="279.2" cy="403.4" r="12.0" fill="#4287a7" fill-opacity="0.95" stroke="#152a36" stroke-opacity="0.85"/>
<circle cx="328.1" cy="410.4" r="12.0" fill="#52bca6" fill-opacity="0.9" stroke="#1d3b36" stroke-opacity="0.75"/>
<circle cx="408.2" cy="315.3" r="12.0" fill="#52bca6" fill-opacity="0.9" stroke="#1d3b36" stroke-opacity="0.75"/>
<circle cx="408.7" cy="315.8" r="12.0" fill="#52bca6" fill-opacity="0.9" stroke="#1d3b36" stroke-opacity="0.75"/>
<circle cx="390.7" cy="334.1" r="12.0" fill="#52bca6" fill-opacity="0.9" stroke="#1d3b36" stroke-opacity="0.75"/>
<circle cx="383.2" cy="363.4" r="12.0" fill="#52bca6" fill-opacity="0.9" stroke="#1d3b36" stroke-opacity="0.75"/>
<circle cx="80.9" cy="397.9" r="12.0" fill="#52bca6" fill-opacity="0.9" stroke="#1d3b36" stroke-opacity="0.75"/>
<circle cx="92.2" cy="404.2" r="12.0" fill="#4287a7" fill-opacity="0.95" stroke="#152a36" stroke-opacity="0.85"/>
<circle cx="95.2" cy="411.7" r="12.0" fill="#52bca6" fill-opacity="0.9" stroke="#1d3b36" stroke-opacity="0.75"/>
<circle cx="51.8" cy="415.4" r="12.0" fill="#52bca6" fill-opacity="0.9" stroke="#1d3b36" stroke-opacity="0.75"/>
<circle cx="120.2" cy="417.5" r="12.0" fill="#52bca6" fill-opacity="0.9" stroke="#1d3b36" stroke-opacity="0.75"/>
<circle cx="92.7" cy="429.2" r="12.0" fill="#52bca6" fill-opacity="0.9" stroke="#1d3b36" stroke-opacity="0.75"/>
<circle cx="101.4" cy="444.2" r="12.0" fill="#52bca6" fill-opacity="0.9" stroke="#1d3b36" stroke-opacity="0.75"/>
<circle cx="100.2" cy="450.5" r="12.0" fill="#52bca6" fill-opacity="0.9" stroke="#1d3b36" stroke-opacity="0.75"/>
<circle cx="157.3" cy="429.2" r="12.0" fill="#52bca6" fill-opacity="0.9" stroke="#1d3b36" stroke-opacity="0.75"/>
<circle cx="156.0" cy="453.8" r="12.0" fill="#52bca6" fill-opacity="0.9" stroke="#1d3b36" stroke-opacity="0.75"/>
<circle cx="60.1" cy="445.0" r="12.0" fill="#52bca6" fill-opacity="0.9" stroke="#1d3b36" stroke-opacity="0.75"/>
<circle cx="45.1" cy="441.7" r="12.0" fill="#52bca6" fill-opacity="0.9" stroke="#1d3b36" stroke-opacity="0.75"/>
<circle cx="37.6" cy="451.8" r="12.0" fill="#4287a7" fill-opacity="0.95" stroke="#152a36" stroke-opacity="0.85"/>
<circle cx="42.6" cy="450.5" r="12.0" fill="#52bca6" fill-opacity="0.9" stroke="#1d3b36" stroke-opacity="0.75"/>
<circle cx="40.1" cy="468.0" r="12.0" fill="#52bca6" fill-opacity="0.9" stroke="#1d3b36" stroke-opacity="0.75"/>
<circle cx="316.8" cy="451.8" r="12.0" fill="#4589aa" fill-opacity="0.88" stroke="#1c3440" stroke-opacity="0.6"/>
<circle cx="334.8" cy="455.5" r="12.0" fill="#52bca6" fill-opacity="0.9" stroke="#1d3b36" stroke-opacity="0.75"/>
<circle cx="372.4" cy="449.8" r="12.0" fill="#4589aa" fill-opacity="0.88" stroke="#1c3440" stroke-opacity="0.6"/>
<circle cx="410.7" cy="460.5" r="12.0" fill="#52bca6" fill-opacity="0.9" stroke="#1d3b36" stroke-opacity="0.75"/>
<circle cx="499.1" cy="257.2" r="12.0" fill="#52bca6" fill-opacity="0.9" stroke="#1d3b36" stroke-opacity="0.75"/>
<circle cx="448.6" cy="276.7" r="12.0" fill="#52bca6" fill-opacity="0.9" stroke="#1d3b36" stroke-opacity="0.75"/>
<circle cx="431.5" cy="285.7" r="12.0" fill="#4589aa" fill-opacity="0.88" stroke="#1c3440" stroke-opacity="0.6"/>
<circle cx="575.3" cy="282.7" r="12.0" fill="#52bca6" fill-opacity="0.9" stroke="#1d3b36" stroke-opacity="0.75"/>
<circle cx="475.4" cy="309.0" r="12.0" fill="#52bca6" fill-opacity="0.9" stroke="#1d3b36" stroke-opacity="0.75"/>
<circle cx="563.3" cy="344.1" r="12.0" fill="#52bca6" fill-opacity="0.9" stroke="#1d3b36" stroke-opacity="0.75"/>
<circle cx="541.2" cy="361.1" r="12.0" fill="#52bca6" fill-opacity="0.9" stroke="#1d3b36" stroke-opacity="0.75"/>
<circle cx="492.9" cy="358.6" r="12.0" fill="#4fb8a0" fill-opacity="0.985" stroke="#0f2a25" stroke-opacity="1"/>
<circle cx="455.3" cy="351.6" r="12.0" fill="#52bca6" fill-opacity="0.9" stroke="#1d3b36" stroke-opacity="0.75"/>
<circle cx="439.8" cy="355.8" r="12.0" fill="#52bca6" fill-opacity="0.9" stroke="#1d3b36" stroke-opacity="0.75"/>
<circle cx="426.5" cy="352.8" r="12.0" fill="#3f86a3" fill-opacity="0.99" stroke="#0b1f29" stroke-opacity="1"/>
<circle cx="481.1" cy="396.2" r="12.0" fill="#52bca6" fill-opacity="0.9" stroke="#1d3b36" stroke-opacity="0.75"/>
<circle cx="531.7" cy="400.4" r="12.0" fill="#4fb8a0" fill-opacity="0.985" stroke="#0f2a25" stroke-opacity="1"/>
<circle cx="532.5" cy="418.0" r="12.0" fill="#52bca6" fill-opacity="0.9" stroke="#1d3b36" stroke-opacity="0.75"/>
<circle cx="531.2" cy="441.7" r="12.0" fill="#52bca6" fill-opacity="0.9" stroke="#1d3b36" stroke-opacity="0.75"/>
<circle cx="564.3" cy="422.5" r="12.0" fill="#52bca6" fill-opacity="0.9" stroke="#1d3b36" stroke-opacity="0.75"/>
<circle cx="594.3" cy="421.2" r="12.0" fill="#52bca6" fill-opacity="0.9" stroke="#1d3b36" stroke-opacity="0.75"/>
<circle cx="608.8" cy="419.2" r="12.0" fill="#52bca6" fill-opacity="0.9" stroke="#1d3b36" stroke-opacity="0.75"/>
<circle cx="623.9" cy="436.2" r="12.0" fill="#4fb8a0" fill-opacity="0.985" stroke="#0f2a25" stroke-opacity="1"/>
<circle cx="596.8" cy="442.5" r="12.0" fill="#52bca6" fill-opacity="0.9" stroke="#1d3b36" stroke-opacity="0.75"/>
<circle cx="489.4" cy="438.5" r="12.0" fill="#52bca6" fill-opacity="0.9" stroke="#1d3b36" stroke-opacity="0.75"/>
<circle cx="422.3" cy="434.7" r="12.0" fill="#4fb8a0" fill-opacity="0.985" stroke="#0f2a25" stroke-opacity="1"/>
<circle cx="442.3" cy="460.5" r="12.0" fill="#52bca6" fill-opacity="0.9" stroke="#1d3b36" stroke-opacity="0.75"/>
<circle cx="468.6" cy="459.3" r="12.0" fill="#52bca6" fill-opacity="0.9" stroke="#1d3b36" stroke-opacity="0.75"/>
<circle cx="482.4" cy="460.5" r="12.0" fill="#52bca6" fill-opacity="0.9" stroke="#1d3b36" stroke-opacity="0.75"/>
<circle cx="625.4" cy="284.5" r="12.0" fill="#3f86a3" fill-opacity="0.99" stroke="#0b1f29" stroke-opacity="1"/>
<circle cx="653.2" cy="293.2" r="12.0" fill="#52bca6" fill-opacity="0.9" stroke="#1d3b36" stroke-opacity="0.75"/>
<circle cx="683.5" cy="285.7" r="12.0" fill="#4287a7" fill-opacity="0.95" stroke="#152a36" stroke-opacity="0.85"/>
<circle cx="723.3" cy="265.2" r="12.0" fill="#52bca6" fill-opacity="0.9" stroke="#1d3b36" stroke-opacity="0.75"/>
<circle cx="744.1" cy="291.5" r="12.0" fill="#4287a7" fill-opacity="0.95" stroke="#152a36" stroke-opacity="0.85"/>
<circle cx="744.1" cy="297.7" r="12.0" fill="#4287a7" fill-opacity="0.95" stroke="#152a36" stroke-opacity="0.85"/>
<circle cx="801.7" cy="307.8" r="12.0" fill="#4589aa" fill-opacity="0.88" stroke="#1c3440" stroke-opacity="0.6"/>
<circle cx="789.9" cy="300.2" r="12.0" fill="#3f86a3" fill-opacity="0.99" stroke="#0b1f29" stroke-opacity="1"/>
<circle cx="805.4" cy="289.0" r="12.0" fill="#52bca6" fill-opacity="0.9" stroke="#1d3b36" stroke-opacity="0.75"/>
<circle cx="811.7" cy="292.7" r="12.0" fill="#4fb8a0" fill-opacity="0.985" stroke="#0f2a25" stroke-opacity="1"/>
<circle cx="829.2" cy="315.3" r="12.0" fill="#52bca6" fill-opacity="0.9" stroke="#1d3b36" stroke-opacity="0.75"/>
<circle cx="642.9" cy="333.3" r="12.0" fill="#3f86a3" fill-opacity="0.99" stroke="#0b1f29" stroke-opacity="1"/>
<circle cx="693.5" cy="338.8" r="12.0" fill="#4fb8a0" fill-opacity="0.985" stroke="#0f2a25" stroke-opacity="1"/>
<circle cx="746.6" cy="337.1" r="12.0" fill="#52bca6" fill-opacity="0.9" stroke="#1d3b36" stroke-opacity="0.75"/>
<circle cx="795.9" cy="339.3" r="12.0" fill="#3f86a3" fill-opacity="0.99" stroke="#0b1f29" stroke-opacity="1"/>
<circle cx="818.0" cy="335.8" r="12.0" fill="#52bca6" fill-opacity="0.9" stroke="#1d3b36" stroke-opacity="0.75"/>
<circle cx="813.7" cy="361.6" r="12.0" fill="#4fb8a0" fill-opacity="0.985" stroke="#0f2a25" stroke-opacity="1"/>
<circle cx="691.0" cy="375.4" r="12.0" fill="#52bca6" fill-opacity="0.9" stroke="#1d3b36" stroke-opacity="0.75"/>
<circle cx="750.8" cy="371.1" r="12.0" fill="#4589aa" fill-opacity="0.88" stroke="#1c3440" stroke-opacity="0.6"/>
<circle cx="768.6" cy="389.9" r="12.0" fill="#52bca6" fill-opacity="0.9" stroke="#1d3b36" stroke-opacity="0.75"/>
<circle cx="750.3" cy="390.9" r="12.0" fill="#4589aa" fill-opacity="0.88" stroke="#1c3440" stroke-opacity="0.6"/>
<circle cx="712.3" cy="394.9" r="12.0" fill="#3f86a3" fill-opacity="0.99" stroke="#0b1f29" stroke-opacity="1"/>
<circle cx="657.2" cy="403.4" r="12.0" fill="#52bca6" fill-opacity="0.9" stroke="#1d3b36" stroke-opacity="0.75"/>
<circle cx="678.5" cy="405.4" r="12.0" fill="#4589aa" fill-opacity="0.88" stroke="#1c3440" stroke-opacity="0.6"/>
<circle cx="814.9" cy="401.7" r="12.0" fill="#3f86a3" fill-opacity="0.99" stroke="#0b1f29" stroke-opacity="1"/>
<circle cx="786.6" cy="412.4" r="12.0" fill="#52bca6" fill-opacity="0.9" stroke="#1d3b36" stroke-opacity="0.75"/>
<circle cx="700.7" cy="430.5" r="12.0" fill="#4589aa" fill-opacity="0.88" stroke="#1c3440" stroke-opacity="0.6"/>
<circle cx="719.8" cy="448.5" r="12.0" fill="#52bca6" fill-opacity="0.9" stroke="#1d3b36" stroke-opacity="0.75"/>
<circle cx="794.7" cy="434.7" r="12.0" fill="#3f86a3" fill-opacity="0.99" stroke="#0b1f29" stroke-opacity="1"/>
<circle cx="796.7" cy="461.8" r="12.0" fill="#3f86a3" fill-opacity="0.99" stroke="#0b1f29" stroke-opacity="1"/>
<circle cx="823.0" cy="459.3" r="12.0" fill="#4fb8a0" fill-opacity="0.985" stroke="#0f2a25" stroke-opacity="1"/>
<circle cx="880.1" cy="274.7" r="12.0" fill="#52bca6" fill-opacity="0.9" stroke="#1d3b36" stroke-opacity="0.75"/>
<circle cx="888.3" cy="293.2" r="12.0" fill="#52bca6" fill-opacity="0.9" stroke="#1d3b36" stroke-opacity="0.75"/>
<circle cx="919.2" cy="299.5" r="12.0" fill="#52bca6" fill-opacity="0.9" stroke="#1d3b36" stroke-opacity="0.75"/>
<circle cx="949.0" cy="290.7" r="12.0" fill="#52bca6" fill-opacity="0.9" stroke="#1d3b36" stroke-opacity="0.75"/>
<circle cx="974.2" cy="294.0" r="12.0" fill="#4589aa" fill-opacity="0.88" stroke="#1c3440" stroke-opacity="0.6"/>
<circle cx="958.0" cy="303.3" r="12.0" fill="#4fb8a0" fill-opacity="0.985" stroke="#0f2a25" stroke-opacity="1"/>
<circle cx="897.1" cy="314.8" r="12.0" fill="#52bca6" fill-opacity="0.9" stroke="#1d3b36" stroke-opacity="0.75"/>
<circle cx="893.4" cy="317.8" r="12.0" fill="#52bca6" fill-opacity="0.9" stroke="#1d3b36" stroke-opacity="0.75"/>
<circle cx="877.8" cy="325.3" r="12.0" fill="#52bca6" fill-opacity="0.9" stroke="#1d3b36" stroke-opacity="0.75"/>
<circle cx="843.3" cy="316.5" r="12.0" fill="#4287a7" fill-opacity="0.95" stroke="#152a36" stroke-opacity="0.85"/>
<circle cx="850.8" cy="320.8" r="12.0" fill="#52bca6" fill-opacity="0.9" stroke="#1d3b36" stroke-opacity="0.75"/>
<circle cx="925.9" cy="331.6" r="12.0" fill="#52bca6" fill-opacity="0.9" stroke="#1d3b36" stroke-opacity="0.75"/>
<circle cx="904.6" cy="344.1" r="12.0" fill="#52bca6" fill-opacity="0.9" stroke="#1d3b36" stroke-opacity="0.75"/>
<circle cx="912.1" cy="341.6" r="12.0" fill="#3f86a3" fill-opacity="0.99" stroke="#0b1f29" stroke-opacity="1"/>
<circle cx="915.4" cy="343.6" r="12.0" fill="#4fb8a0" fill-opacity="0.985" stroke="#0f2a25" stroke-opacity="1"/>
<circle cx="930.2" cy="349.1" r="12.0" fill="#52bca6" fill-opacity="0.9" stroke="#1d3b36" stroke-opacity="0.75"/>
<circle cx="862.1" cy="357.8" r="12.0" fill="#3f86a3" fill-opacity="0.99" stroke="#0b1f29" stroke-opacity="1"/>
<circle cx="894.6" cy="370.4" r="12.0" fill="#52bca6" fill-opacity="0.9" stroke="#1d3b36" stroke-opacity="0.75"/>
<circle cx="932.2" cy="369.1" r="12.0" fill="#52bca6" fill-opacity="0.9" stroke="#1d3b36" stroke-opacity="0.75"/>
<circle cx="951.7" cy="360.4" r="12.0" fill="#52bca6" fill-opacity="0.9" stroke="#1d3b36" stroke-opacity="0.75"/>
<circle cx="959.2" cy="370.4" r="12.0" fill="#4287a7" fill-opacity="0.95" stroke="#152a36" stroke-opacity="0.85"/>
<circle cx="858.3" cy="386.6" r="12.0" fill="#52bca6" fill-opacity="0.9" stroke="#1d3b36" stroke-opacity="0.75"/>
<circle cx="986.5" cy="379.1" r="12.0" fill="#52bca6" fill-opacity="0.9" stroke="#1d3b36" stroke-opacity="0.75"/>
<circle cx="999.8" cy="333.3" r="12.0" fill="#52bca6" fill-opacity="0.9" stroke="#1d3b36" stroke-opacity="0.75"/>
<circle cx="1030.3" cy="345.8" r="12.0" fill="#3f86a3" fill-opacity="0.99" stroke="#0b1f29" stroke-opacity="1"/>
<circle cx="1113.7" cy="335.3" r="12.0" fill="#52bca6" fill-opacity="0.9" stroke="#1d3b36" stroke-opacity="0.75"/>
<circle cx="1107.5" cy="362.4" r="12.0" fill="#52bca6" fill-opacity="0.9" stroke="#1d3b36" stroke-opacity="0.75"/>
<circle cx="1101.7" cy="376.6" r="12.0" fill="#52bca6" fill-opacity="0.9" stroke="#1d3b36" stroke-opacity="0.75"/>
<circle cx="1138.0" cy="387.9" r="12.0" fill="#3f86a3" fill-opacity="0.99" stroke="#0b1f29" stroke-opacity="1"/>
<circle cx="1127.0" cy="401.7" r="12.0" fill="#52bca6" fill-opacity="0.9" stroke="#1d3b36" stroke-opacity="0.75"/>
<circle cx="1047.9" cy="390.9" r="12.0" fill="#52bca6" fill-opacity="0.9" stroke="#1d3b36" stroke-opacity="0.75"/>
<circle cx="1088.7" cy="402.9" r="12.0" fill="#52bca6" fill-opacity="0.9" stroke="#1d3b36" stroke-opacity="0.75"/>
<circle cx="1078.7" cy="407.9" r="12.0" fill="#52bca6" fill-opacity="0.9" stroke="#1d3b36" stroke-opacity="0.75"/>
<circle cx="1079.2" cy="420.5" r="12.0" fill="#4287a7" fill-opacity="0.95" stroke="#152a36" stroke-opacity="0.85"/>
<circle cx="1101.2" cy="420.5" r="12.0" fill="#4589aa" fill-opacity="0.88" stroke="#1c3440" stroke-opacity="0.6"/>
<circle cx="1135.5" cy="426.7" r="12.0" fill="#52bca6" fill-opacity="0.9" stroke="#1d3b36" stroke-opacity="0.75"/>
<circle cx="1138.8" cy="441.7" r="12.0" fill="#52bca6" fill-opacity="0.9" stroke="#1d3b36" stroke-opacity="0.75"/>
<circle cx="1115.5" cy="443.5" r="12.0" fill="#3f86a3" fill-opacity="0.99" stroke="#0b1f29" stroke-opacity="1"/>
<circle cx="1147.6" cy="459.3" r="12.0" fill="#52bca6" fill-opacity="0.9" stroke="#1d3b36" stroke-opacity="0.75"/>
<circle cx="1180.9" cy="458.0" r="12.0" fill="#52bca6" fill-opacity="0.9" stroke="#1d3b36" stroke-opacity="0.75"/>
<circle cx="1074.9" cy="455.5" r="12.0" fill="#52bca6" fill-opacity="0.9" stroke="#1d3b36" stroke-opacity="0.75"/>
<circle cx="1079.9" cy="458.0" r="12.0" fill="#52bca6" fill-opacity="0.9" stroke="#1d3b36" stroke-opacity="0.75"/>
<circle cx="973.5" cy="418.0" r="12.0" fill="#52bca6" fill-opacity="0.9" stroke="#1d3b36" stroke-opacity="0.75"/>
<circle cx="982.8" cy="405.4" r="12.0" fill="#3f86a3" fill-opacity="0.99" stroke="#0b1f29" stroke-opacity="1"/>
<circle cx="1026.6" cy="418.0" r="12.0" fill="#52bca6" fill-opacity="0.9" stroke="#1d3b36" stroke-opacity="0.75"/>
<circle cx="1014.1" cy="438.0" r="12.0" fill="#52bca6" fill-opacity="0.9" stroke="#1d3b36" stroke-opacity="0.75"/>
<circle cx="981.5" cy="443.0" r="12.0" fill="#52bca6" fill-opacity="0.9" stroke="#1d3b36" stroke-opacity="0.75"/>
<circle cx="934.7" cy="412.9" r="12.0" fill="#52bca6" fill-opacity="0.9" stroke="#1d3b36" stroke-opacity="0.75"/>
<circle cx="922.7" cy="411.2" r="12.0" fill="#3f86a3" fill-opacity="0.99" stroke="#0b1f29" stroke-opacity="1"/>
<circle cx="904.6" cy="412.9" r="12.0" fill="#52bca6" fill-opacity="0.9" stroke="#1d3b36" stroke-opacity="0.75"/>
<circle cx="888.3" cy="409.2" r="12.0" fill="#4fb8a0" fill-opacity="0.985" stroke="#0f2a25" stroke-opacity="1"/>
<circle cx="890.9" cy="428.0" r="12.0" fill="#52bca6" fill-opacity="0.9" stroke="#1d3b36" stroke-opacity="0.75"/>
<circle cx="869.6" cy="433.0" r="12.0" fill="#52bca6" fill-opacity="0.9" stroke="#1d3b36" stroke-opacity="0.75"/>
<circle cx="839.5" cy="426.0" r="12.0" fill="#52bca6" fill-opacity="0.9" stroke="#1d3b36" stroke-opacity="0.75"/>
<circle cx="909.6" cy="443.7" r="12.0" fill="#52bca6" fill-opacity="0.9" stroke="#1d3b36" stroke-opacity="0.75"/>
<circle cx="896.6" cy="456.8" r="12.0" fill="#4287a7" fill-opacity="0.95" stroke="#152a36" stroke-opacity="0.85"/>
<circle cx="942.2" cy="449.8" r="12.0" fill="#3f86a3" fill-opacity="0.99" stroke="#0b1f29" stroke-opacity="1"/>
<circle cx="1500.7" cy="225.9" r="12.0" fill="#52bca6" fill-opacity="0.84" stroke="#1d3b36" stroke-opacity="0.55"/>
<circle cx="1521.0" cy="242.1" r="12.0" fill="#3f86a3" fill-opacity="0.99" stroke="#0b1f29" stroke-opacity="1"/>
<circle cx="1555.3" cy="289.0" r="12.0" fill="#3f86a3" fill-opacity="0.99" stroke="#0b1f29" stroke-opacity="1"/>
<circle cx="1526.5" cy="322.8" r="12.0" fill="#52bca6" fill-opacity="0.9" stroke="#1d3b36" stroke-opacity="0.75"/>
<circle cx="1524.0" cy="311.5" r="12.0" fill="#4589aa" fill-opacity="0.88" stroke="#1c3440" stroke-opacity="0.6"/>
<circle cx="1547.8" cy="317.8" r="12.0" fill="#3f86a3" fill-opacity="0.99" stroke="#0b1f29" stroke-opacity="1"/>
<circle cx="1522.7" cy="337.8" r="12.0" fill="#52bca6" fill-opacity="0.9" stroke="#1d3b36" stroke-opacity="0.75"/>
<circle cx="1502.7" cy="329.0" r="12.0" fill="#52bca6" fill-opacity="0.9" stroke="#1d3b36" stroke-opacity="0.75"/>
<circle cx="1501.4" cy="339.1" r="12.0" fill="#52bca6" fill-opacity="0.9" stroke="#1d3b36" stroke-opacity="0.75"/>
<circle cx="1509.7" cy="354.1" r="12.0" fill="#52bca6" fill-opacity="0.84" stroke="#1d3b36" stroke-opacity="0.55"/>
<circle cx="1492.7" cy="350.3" r="12.0" fill="#52bca6" fill-opacity="0.9" stroke="#1d3b36" stroke-opacity="0.75"/>
<circle cx="1452.6" cy="330.3" r="12.0" fill="#52bca6" fill-opacity="0.9" stroke="#1d3b36" stroke-opacity="0.75"/>
<circle cx="1443.8" cy="335.3" r="12.0" fill="#52bca6" fill-opacity="0.9" stroke="#1d3b36" stroke-opacity="0.75"/>
<circle cx="1466.4" cy="346.6" r="12.0" fill="#52bca6" fill-opacity="0.9" stroke="#1d3b36" stroke-opacity="0.75"/>
<circle cx="1468.9" cy="354.1" r="12.0" fill="#52bca6" fill-opacity="0.9" stroke="#1d3b36" stroke-opacity="0.75"/>
<circle cx="1475.2" cy="359.1" r="12.0" fill="#52bca6" fill-opacity="0.9" stroke="#1d3b36" stroke-opacity="0.75"/>
<circle cx="1451.4" cy="354.1" r="12.0" fill="#4287a7" fill-opacity="0.95" stroke="#152a36" stroke-opacity="0.85"/>
<circle cx="1443.3" cy="350.8" r="12.0" fill="#3f86a3" fill-opacity="0.99" stroke="#0b1f29" stroke-opacity="1"/>
<circle cx="1276.1" cy="445.5" r="12.0" fill="#3f86a3" fill-opacity="0.99" stroke="#0b1f29" stroke-opacity="1"/>
<circle cx="1381.3" cy="348.4" r="12.0" fill="#52bca6" fill-opacity="0.9" stroke="#1d3b36" stroke-opacity="0.75"/>
<circle cx="1360.1" cy="365.1" r="12.0" fill="#52bca6" fill-opacity="0.9" stroke="#1d3b36" stroke-opacity="0.75"/>
<circle cx="1356.8" cy="370.1" r="12.0" fill="#52bca6" fill-opacity="0.9" stroke="#1d3b36" stroke-opacity="0.75"/>
<circle cx="1364.0" cy="356.7" r="12.0" fill="#4589aa" fill-opacity="0.88" stroke="#1c3440" stroke-opacity="0.6"/>
<circle cx="1402.2" cy="349.7" r="12.0" fill="#3f86a3" fill-opacity="0.99" stroke="#0b1f29" stroke-opacity="1"/>
<circle cx="1412.7" cy="354.2" r="12.0" fill="#4fb8a0" fill-opacity="0.985" stroke="#0f2a25" stroke-opacity="1"/>
<circle cx="1381.8" cy="373.4" r="12.0" fill="#52bca6" fill-opacity="0.9" stroke="#1d3b36" stroke-opacity="0.75"/>
<circle cx="1391.0" cy="370.1" r="12.0" fill="#52bca6" fill-opacity="0.9" stroke="#1d3b36" stroke-opacity="0.75"/>
<circle cx="1416.9" cy="373.4" r="12.0" fill="#52bca6" fill-opacity="0.9" stroke="#1d3b36" stroke-opacity="0.75"/>
<circle cx="1431.9" cy="372.6" r="12.0" fill="#52bca6" fill-opacity="0.9" stroke="#1d3b36" stroke-opacity="0.75"/>
<circle cx="1443.6" cy="375.1" r="12.0" fill="#52bca6" fill-opacity="0.9" stroke="#1d3b36" stroke-opacity="0.75"/>
<circle cx="1333.4" cy="388.5" r="12.0" fill="#52bca6" fill-opacity="0.9" stroke="#1d3b36" stroke-opacity="0.75"/>
<circle cx="1346.8" cy="391.0" r="12.0" fill="#3f86a3" fill-opacity="0.99" stroke="#0b1f29" stroke-opacity="1"/>
<circle cx="1340.1" cy="381.8" r="12.0" fill="#52bca6" fill-opacity="0.9" stroke="#1d3b36" stroke-opacity="0.75"/>
<circle cx="1360.1" cy="393.5" r="12.0" fill="#52bca6" fill-opacity="0.9" stroke="#1d3b36" stroke-opacity="0.75"/>
<circle cx="1391.0" cy="388.5" r="12.0" fill="#52bca6" fill-opacity="0.9" stroke="#1d3b36" stroke-opacity="0.75"/>
<circle cx="1400.2" cy="390.1" r="12.0" fill="#52bca6" fill-opacity="0.9" stroke="#1d3b36" stroke-opacity="0.75"/>
<circle cx="1385.2" cy="386.8" r="12.0" fill="#52bca6" fill-opacity="0.9" stroke="#1d3b36" stroke-opacity="0.75"/>
<circle cx="1425.2" cy="386.8" r="12.0" fill="#4287a7" fill-opacity="0.95" stroke="#152a36" stroke-opacity="0.85"/>
<circle cx="1442.4" cy="387.6" r="12.0" fill="#3f86a3" fill-opacity="0.99" stroke="#0b1f29" stroke-opacity="1"/>
<circle cx="1465.3" cy="390.1" r="12.0" fill="#52bca6" fill-opacity="0.9" stroke="#1d3b36" stroke-opacity="0.75"/>
<circle cx="1467.8" cy="394.3" r="12.0" fill="#4287a7" fill-opacity="0.95" stroke="#152a36" stroke-opacity="0.85"/>
<circle cx="1484.5" cy="389.3" r="12.0" fill="#4589aa" fill-opacity="0.88" stroke="#1c3440" stroke-opacity="0.6"/>
<circle cx="1443.6" cy="411.0" r="12.0" fill="#4589aa" fill-opacity="0.88" stroke="#1c3440" stroke-opacity="0.6"/>
<circle cx="1467.0" cy="406.0" r="12.0" fill="#4287a7" fill-opacity="0.95" stroke="#152a36" stroke-opacity="0.85"/>
<circle cx="1426.9" cy="405.2" r="12.0" fill="#52bca6" fill-opacity="0.9" stroke="#1d3b36" stroke-opacity="0.75"/>
<circle cx="1426.1" cy="415.2" r="12.0" fill="#52bca6" fill-opacity="0.9" stroke="#1d3b36" stroke-opacity="0.75"/>
<circle cx="1450.3" cy="406.8" r="12.0" fill="#52bca6" fill-opacity="0.9" stroke="#1d3b36" stroke-opacity="0.75"/>
<circle cx="1475.3" cy="413.5" r="12.0" fill="#52bca6" fill-opacity="0.9" stroke="#1d3b36" stroke-opacity="0.75"/>
<circle cx="1495.4" cy="406.8" r="12.0" fill="#52bca6" fill-opacity="0.9" stroke="#1d3b36" stroke-opacity="0.75"/>
<circle cx="1497.0" cy="413.5" r="12.0" fill="#52bca6" fill-opacity="0.84" stroke="#1d3b36" stroke-opacity="0.55"/>
<circle cx="1345.1" cy="413.5" r="12.0" fill="#52bca6" fill-opacity="0.9" stroke="#1d3b36" stroke-opacity="0.75"/>
<circle cx="1366.8" cy="403.5" r="12.0" fill="#52bca6" fill-opacity="0.9" stroke="#1d3b36" stroke-opacity="0.75"/>
<circle cx="1371.8" cy="418.5" r="12.0" fill="#52bca6" fill-opacity="0.9" stroke="#1d3b36" stroke-opacity="0.75"/>
<circle cx="1396.0" cy="418.5" r="12.0" fill="#52bca6" fill-opacity="0.9" stroke="#1d3b36" stroke-opacity="0.75"/>
<circle cx="1413.5" cy="426.9" r="12.0" fill="#52bca6" fill-opacity="0.9" stroke="#1d3b36" stroke-opacity="0.75"/>
<circle cx="1407.7" cy="421.9" r="12.0" fill="#4fb8a0" fill-opacity="0.985" stroke="#0f2a25" stroke-opacity="1"/>
<circle cx="1345.1" cy="426.0" r="12.0" fill="#4287a7" fill-opacity="0.95" stroke="#152a36" stroke-opacity="0.85"/>
<circle cx="1357.6" cy="426.9" r="12.0" fill="#52bca6" fill-opacity="0.9" stroke="#1d3b36" stroke-opacity="0.75"/>
<circle cx="1309.2" cy="429.4" r="12.0" fill="#3f86a3" fill-opacity="0.99" stroke="#0b1f29" stroke-opacity="1"/>
<circle cx="1326.7" cy="436.9" r="12.0" fill="#52bca6" fill-opacity="0.9" stroke="#1d3b36" stroke-opacity="0.75"/>
<circle cx="1341.7" cy="450.2" r="12.0" fill="#4287a7" fill-opacity="0.95" stroke="#152a36" stroke-opacity="0.85"/>
<circle cx="1360.9" cy="451.9" r="12.0" fill="#52bca6" fill-opacity="0.9" stroke="#1d3b36" stroke-opacity="0.75"/>
<circle cx="1357.6" cy="460.3" r="12.0" fill="#3f86a3" fill-opacity="0.99" stroke="#0b1f29" stroke-opacity="1"/>
<circle cx="1312.5" cy="461.9" r="12.0" fill="#52bca6" fill-opacity="0.9" stroke="#1d3b36" stroke-opacity="0.75"/>
<circle cx="1330.1" cy="463.6" r="12.0" fill="#52bca6" fill-opacity="0.9" stroke="#1d3b36" stroke-opacity="0.75"/>
<circle cx="1333.4" cy="475.3" r="12.0" fill="#52bca6" fill-opacity="0.9" stroke="#1d3b36" stroke-opacity="0.75"/>
<circle cx="1380.1" cy="441.9" r="12.0" fill="#52bca6" fill-opacity="0.9" stroke="#1d3b36" stroke-opacity="0.75"/>
<circle cx="1393.5" cy="444.4" r="12.0" fill="#52bca6" fill-opacity="0.9" stroke="#1d3b36" stroke-opacity="0.75"/>
<circle cx="1415.2" cy="450.2" r="12.0" fill="#52bca6" fill-opacity="0.9" stroke="#1d3b36" stroke-opacity="0.75"/>
<circle cx="1430.2" cy="442.7" r="12.0" fill="#52bca6" fill-opacity="0.9" stroke="#1d3b36" stroke-opacity="0.75"/>
<circle cx="1448.6" cy="436.9" r="12.0" fill="#4287a7" fill-opacity="0.95" stroke="#152a36" stroke-opacity="0.85"/>
<circle cx="1468.6" cy="428.5" r="12.0" fill="#52bca6" fill-opacity="0.9" stroke="#1d3b36" stroke-opacity="0.75"/>
<circle cx="1475.3" cy="421.9" r="12.0" fill="#52bca6" fill-opacity="0.9" stroke="#1d3b36" stroke-opacity="0.75"/>
<circle cx="1499.5" cy="426.9" r="12.0" fill="#52bca6" fill-opacity="0.9" stroke="#1d3b36" stroke-opacity="0.75"/>
<circle cx="1515.4" cy="421.9" r="12.0" fill="#52bca6" fill-opacity="0.9" stroke="#1d3b36" stroke-opacity="0.75"/>
<circle cx="1522.1" cy="430.2" r="12.0" fill="#4fb8a0" fill-opacity="0.985" stroke="#0f2a25" stroke-opacity="1"/>
<circle cx="1446.9" cy="455.2" r="12.0" fill="#4287a7" fill-opacity="0.95" stroke="#152a36" stroke-opacity="0.85"/>
<circle cx="1485.3" cy="458.6" r="12.0" fill="#4287a7" fill-opacity="0.95" stroke="#152a36" stroke-opacity="0.85"/>
<circle cx="1468.6" cy="455.2" r="12.0" fill="#4287a7" fill-opacity="0.95" stroke="#152a36" stroke-opacity="0.85"/>
<circle cx="1483.7" cy="440.2" r="12.0" fill="#4fb8a0" fill-opacity="0.985" stroke="#0f2a25" stroke-opacity="1"/>
<circle cx="1508.7" cy="448.6" r="12.0" fill="#52bca6" fill-opacity="0.9" stroke="#1d3b36" stroke-opacity="0.75"/>
<circle cx="1524.6" cy="451.9" r="12.0" fill="#52bca6" fill-opacity="0.9" stroke="#1d3b36" stroke-opacity="0.75"/>
<circle cx="1488.7" cy="453.6" r="12.0" fill="#52bca6" fill-opacity="0.9" stroke="#1d3b36" stroke-opacity="0.75"/>
<circle cx="1426.9" cy="451.9" r="12.0" fill="#52bca6" fill-opacity="0.9" stroke="#1d3b36" stroke-opacity="0.75"/>
<circle cx="1390.2" cy="465.3" r="12.0" fill="#52bca6" fill-opacity="0.9" stroke="#1d3b36" stroke-opacity="0.75"/>
<circle cx="1405.2" cy="473.6" r="12.0" fill="#52bca6" fill-opacity="0.9" stroke="#1d3b36" stroke-opacity="0.75"/>
<circle cx="1428.6" cy="471.1" r="12.0" fill="#52bca6" fill-opacity="0.9" stroke="#1d3b36" stroke-opacity="0.75"/>
<circle cx="1447.8" cy="470.3" r="12.0" fill="#52bca6" fill-opacity="0.9" stroke="#1d3b36" stroke-opacity="0.75"/>
<circle cx="1466.1" cy="481.1" r="12.0" fill="#4fb8a0" fill-opacity="0.985" stroke="#0f2a25" stroke-opacity="1"/>
<circle cx="1385.2" cy="478.6" r="12.0" fill="#52bca6" fill-opacity="0.9" stroke="#1d3b36" stroke-opacity="0.75"/>
<circle cx="1372.6" cy="483.6" r="12.0" fill="#52bca6" fill-opacity="0.9" stroke="#1d3b36" stroke-opacity="0.75"/>
<circle cx="1371.0" cy="486.1" r="12.0" fill="#52bca6" fill-opacity="0.9" stroke="#1d3b36" stroke-opacity="0.75"/>
<circle cx="1338.4" cy="495.3" r="12.0" fill="#52bca6" fill-opacity="0.9" stroke="#1d3b36" stroke-opacity="0.75"/>
<circle cx="1343.4" cy="505.3" r="12.0" fill="#4fb8a0" fill-opacity="0.985" stroke="#0f2a25" stroke-opacity="1"/>
<circle cx="1389.3" cy="502.0" r="12.0" fill="#52bca6" fill-opacity="0.9" stroke="#1d3b36" stroke-opacity="0.75"/>
<circle cx="1387.7" cy="509.5" r="12.0" fill="#4fb8a0" fill-opacity="0.985" stroke="#0f2a25" stroke-opacity="1"/>
<circle cx="1403.5" cy="497.0" r="12.0" fill="#52bca6" fill-opacity="0.9" stroke="#1d3b36" stroke-opacity="0.75"/>
<circle cx="1435.2" cy="495.3" r="12.0" fill="#4589aa" fill-opacity="0.88" stroke="#1c3440" stroke-opacity="0.6"/>
<circle cx="1424.4" cy="498.7" r="12.0" fill="#4fb8a0" fill-opacity="0.985" stroke="#0f2a25" stroke-opacity="1"/>
<circle cx="1423.6" cy="485.3" r="12.0" fill="#52bca6" fill-opacity="0.9" stroke="#1d3b36" stroke-opacity="0.75"/>
<circle cx="1438.6" cy="482.0" r="12.0" fill="#52bca6" fill-opacity="0.9" stroke="#1d3b36" stroke-opacity="0.75"/>
<circle cx="1315.9" cy="521.7" r="12.0" fill="#52bca6" fill-opacity="0.9" stroke="#1d3b36" stroke-opacity="0.75"/>
<circle cx="1348.4" cy="532.1" r="12.0" fill="#3f86a3" fill-opacity="0.99" stroke="#0b1f29" stroke-opacity="1"/>
<circle cx="1366.0" cy="538.4" r="12.0" fill="#52bca6" fill-opacity="0.9" stroke="#1d3b36" stroke-opacity="0.75"/>
<circle cx="1369.3" cy="530.9" r="12.0" fill="#52bca6" fill-opacity="0.9" stroke="#1d3b36" stroke-opacity="0.75"/>
<circle cx="1378.5" cy="535.9" r="12.0" fill="#52bca6" fill-opacity="0.9" stroke="#1d3b36" stroke-opacity="0.75"/>
<circle cx="1406.9" cy="521.7" r="12.0" fill="#52bca6" fill-opacity="0.9" stroke="#1d3b36" stroke-opacity="0.75"/>
<circle cx="1409.4" cy="518.4" r="12.0" fill="#52bca6" fill-opacity="0.9" stroke="#1d3b36" stroke-opacity="0.75"/>
<circle cx="1426.1" cy="527.6" r="12.0" fill="#52bca6" fill-opacity="0.9" stroke="#1d3b36" stroke-opacity="0.75"/>
<circle cx="1426.9" cy="535.9" r="12.0" fill="#52bca6" fill-opacity="0.9" stroke="#1d3b36" stroke-opacity="0.75"/>
<circle cx="1410.2" cy="541.7" r="12.0" fill="#52bca6" fill-opacity="0.9" stroke="#1d3b36" stroke-opacity="0.75"/>
<circle cx="1399.3" cy="533.4" r="12.0" fill="#4fb8a0" fill-opacity="0.985" stroke="#0f2a25" stroke-opacity="1"/>
<circle cx="1385.2" cy="548.4" r="12.0" fill="#4287a7" fill-opacity="0.95" stroke="#152a36" stroke-opacity="0.85"/>
<circle cx="1400.2" cy="551.8" r="12.0" fill="#52bca6" fill-opacity="0.9" stroke="#1d3b36" stroke-opacity="0.75"/>
<circle cx="1423.6" cy="550.1" r="12.0" fill="#52bca6" fill-opacity="0.9" stroke="#1d3b36" stroke-opacity="0.75"/>
<circle cx="1421.1" cy="554.3" r="12.0" fill="#52bca6" fill-opacity="0.9" stroke="#1d3b36" stroke-opacity="0.75"/>
<circle cx="1394.3" cy="565.1" r="12.0" fill="#52bca6" fill-opacity="0.9" stroke="#1d3b36" stroke-opacity="0.75"/>
<circle cx="1415.2" cy="564.3" r="12.0" fill="#52bca6" fill-opacity="0.84" stroke="#1d3b36" stroke-opacity="0.55"/>
<circle cx="1330.1" cy="548.4" r="12.0" fill="#52bca6" fill-opacity="0.9" stroke="#1d3b36" stroke-opacity="0.75"/>
<circle cx="1341.7" cy="566.8" r="12.0" fill="#4287a7" fill-opacity="0.95" stroke="#152a36" stroke-opacity="0.85"/>
<circle cx="1355.1" cy="562.6" r="12.0" fill="#4287a7" fill-opacity="0.95" stroke="#152a36" stroke-opacity="0.85"/>
<circle cx="1325.0" cy="567.6" r="12.0" fill="#52bca6" fill-opacity="0.9" stroke="#1d3b36" stroke-opacity="0.75"/>
<circle cx="1363.1" cy="562.3" r="12.0" fill="#4fb8a0" fill-opacity="0.985" stroke="#0f2a25" stroke-opacity="1"/>
<circle cx="1371.8" cy="577.6" r="12.0" fill="#4589aa" fill-opacity="0.88" stroke="#1c3440" stroke-opacity="0.6"/>
<circle cx="1353.4" cy="585.2" r="12.0" fill="#4fb8a0" fill-opacity="0.985" stroke="#0f2a25" stroke-opacity="1"/>
<circle cx="1396.8" cy="581.8" r="12.0" fill="#4589aa" fill-opacity="0.88" stroke="#1c3440" stroke-opacity="0.6"/>
<circle cx="1398.5" cy="601.9" r="12.0" fill="#52bca6" fill-opacity="0.9" stroke="#1d3b36" stroke-opacity="0.75"/>
<circle cx="1399.3" cy="594.3" r="12.0" fill="#4fb8a0" fill-opacity="0.985" stroke="#0f2a25" stroke-opacity="1"/>
<circle cx="1414.7" cy="592.3" r="12.0" fill="#3f86a3" fill-opacity="0.99" stroke="#0b1f29" stroke-opacity="1"/>
<circle cx="1331.7" cy="601.9" r="12.0" fill="#4589aa" fill-opacity="0.88" stroke="#1c3440" stroke-opacity="0.6"/>
<circle cx="1342.6" cy="612.7" r="12.0" fill="#4287a7" fill-opacity="0.95" stroke="#152a36" stroke-opacity="0.85"/>
<circle cx="1307.5" cy="608.5" r="12.0" fill="#52bca6" fill-opacity="0.9" stroke="#1d3b36" stroke-opacity="0.75"/>
<circle cx="1320.9" cy="623.6" r="12.0" fill="#3f86a3" fill-opacity="0.99" stroke="#0b1f29" stroke-opacity="1"/>
<circle cx="1305.0" cy="622.7" r="12.0" fill="#4fb8a0" fill-opacity="0.985" stroke="#0f2a25" stroke-opacity="1"/>
<circle cx="1377.6" cy="615.2" r="12.0" fill="#52bca6" fill-opacity="0.9" stroke="#1d3b36" stroke-opacity="0.75"/>
<circle cx="1398.5" cy="631.9" r="12.0" fill="#52bca6" fill-opacity="0.9" stroke="#1d3b36" stroke-opacity="0.75"/>
<circle cx="1400.2" cy="625.2" r="12.0" fill="#52bca6" fill-opacity="0.9" stroke="#1d3b36" stroke-opacity="0.75"/>
<circle cx="1339.2" cy="638.6" r="12.0" fill="#52bca6" fill-opacity="0.9" stroke="#1d3b36" stroke-opacity="0.75"/>
<circle cx="1355.9" cy="646.9" r="12.0" fill="#52bca6" fill-opacity="0.9" stroke="#1d3b36" stroke-opacity="0.75"/>
<circle cx="1350.9" cy="627.7" r="12.0" fill="#4287a7" fill-opacity="0.95" stroke="#152a36" stroke-opacity="0.85"/>
<circle cx="1381.8" cy="640.3" r="12.0" fill="#52bca6" fill-opacity="0.9" stroke="#1d3b36" stroke-opacity="0.75"/>
<circle cx="1385.2" cy="657.0" r="12.0" fill="#4287a7" fill-opacity="0.95" stroke="#152a36" stroke-opacity="0.85"/>
<circle cx="1393.5" cy="654.4" r="12.0" fill="#4fb8a0" fill-opacity="0.985" stroke="#0f2a25" stroke-opacity="1"/>
<circle cx="1394.3" cy="658.6" r="12.0" fill="#4fb8a0" fill-opacity="0.985" stroke="#0f2a25" stroke-opacity="1"/>
<circle cx="1329.2" cy="667.8" r="12.0" fill="#52bca6" fill-opacity="0.9" stroke="#1d3b36" stroke-opacity="0.75"/>
<circle cx="1355.1" cy="677.0" r="12.0" fill="#4287a7" fill-opacity="0.95" stroke="#152a36" stroke-opacity="0.85"/>
<circle cx="1356.8" cy="668.6" r="12.0" fill="#52bca6" fill-opacity="0.9" stroke="#1d3b36" stroke-opacity="0.75"/>
<circle cx="1398.5" cy="675.3" r="12.0" fill="#52bca6" fill-opacity="0.9" stroke="#1d3b36" stroke-opacity="0.75"/>
<circle cx="1388.5" cy="685.3" r="12.0" fill="#4589aa" fill-opacity="0.88" stroke="#1c3440" stroke-opacity="0.6"/>
<circle cx="1416.9" cy="684.5" r="12.0" fill="#4fb8a0" fill-opacity="0.985" stroke="#0f2a25" stroke-opacity="1"/>
<circle cx="1338.4" cy="693.7" r="12.0" fill="#52bca6" fill-opacity="0.9" stroke="#1d3b36" stroke-opacity="0.75"/>
<circle cx="1354.3" cy="697.0" r="12.0" fill="#52bca6" fill-opacity="0.9" stroke="#1d3b36" stroke-opacity="0.75"/>
<circle cx="1321.7" cy="699.5" r="12.0" fill="#52bca6" fill-opacity="0.9" stroke="#1d3b36" stroke-opacity="0.75"/>
<circle cx="1318.4" cy="702.0" r="12.0" fill="#4fb8a0" fill-opacity="0.985" stroke="#0f2a25" stroke-opacity="1"/>
<circle cx="1369.3" cy="704.5" r="12.0" fill="#4589aa" fill-opacity="0.88" stroke="#1c3440" stroke-opacity="0.6"/>
<circle cx="1426.1" cy="706.2" r="12.0" fill="#52bca6" fill-opacity="0.84" stroke="#1d3b36" stroke-opacity="0.55"/>
<circle cx="43.8" cy="478.5" r="12.0" fill="#52bca6" fill-opacity="0.9" stroke="#1d3b36" stroke-opacity="0.75"/>
<circle cx="48.1" cy="496.0" r="12.0" fill="#52bca6" fill-opacity="0.9" stroke="#1d3b36" stroke-opacity="0.75"/>
<circle cx="47.6" cy="509.1" r="12.0" fill="#52bca6" fill-opacity="0.9" stroke="#1d3b36" stroke-opacity="0.75"/>
<circle cx="42.6" cy="519.1" r="12.0" fill="#52bca6" fill-opacity="0.9" stroke="#1d3b36" stroke-opacity="0.75"/>
<circle cx="81.4" cy="473.5" r="12.0" fill="#4287a7" fill-opacity="0.95" stroke="#152a36" stroke-opacity="0.85"/>
<circle cx="90.7" cy="474.5" r="12.0" fill="#52bca6" fill-opacity="0.9" stroke="#1d3b36" stroke-opacity="0.75"/>
<circle cx="93.4" cy="507.8" r="12.0" fill="#4fb8a0" fill-opacity="0.985" stroke="#0f2a25" stroke-opacity="1"/>
<circle cx="120.2" cy="506.6" r="12.0" fill="#52bca6" fill-opacity="0.9" stroke="#1d3b36" stroke-opacity="0.75"/>
<circle cx="111.4" cy="529.9" r="12.0" fill="#52bca6" fill-opacity="0.9" stroke="#1d3b36" stroke-opacity="0.75"/>
<circle cx="89.7" cy="536.1" r="12.0" fill="#52bca6" fill-opacity="0.9" stroke="#1d3b36" stroke-opacity="0.75"/>
<circle cx="91.4" cy="551.6" r="12.0" fill="#3f86a3" fill-opacity="0.99" stroke="#0b1f29" stroke-opacity="1"/>
<circle cx="116.0" cy="551.6" r="12.0" fill="#52bca6" fill-opacity="0.9" stroke="#1d3b36" stroke-opacity="0.75"/>
<circle cx="134.7" cy="540.4" r="12.0" fill="#52bca6" fill-opacity="0.9" stroke="#1d3b36" stroke-opacity="0.75"/>
<circle cx="149.0" cy="527.1" r="12.0" fill="#3f86a3" fill-opacity="0.99" stroke="#0b1f29" stroke-opacity="1"/>
<circle cx="147.3" cy="529.6" r="12.0" fill="#4fb8a0" fill-opacity="0.985" stroke="#0f2a25" stroke-opacity="1"/>
<circle cx="65.1" cy="543.6" r="12.0" fill="#52bca6" fill-opacity="0.9" stroke="#1d3b36" stroke-opacity="0.75"/>
<circle cx="56.3" cy="546.6" r="12.0" fill="#4fb8a0" fill-opacity="0.985" stroke="#0f2a25" stroke-opacity="1"/>
<circle cx="48.8" cy="559.2" r="12.0" fill="#52bca6" fill-opacity="0.84" stroke="#1d3b36" stroke-opacity="0.55"/>
<circle cx="57.6" cy="572.9" r="12.0" fill="#4fb8a0" fill-opacity="0.985" stroke="#0f2a25" stroke-opacity="1"/>
<circle cx="57.1" cy="585.5" r="12.0" fill="#4287a7" fill-opacity="0.95" stroke="#152a36" stroke-opacity="0.85"/>
<circle cx="67.6" cy="593.0" r="12.0" fill="#4287a7" fill-opacity="0.95" stroke="#152a36" stroke-opacity="0.85"/>
<circle cx="67.6" cy="609.2" r="12.0" fill="#4589aa" fill-opacity="0.88" stroke="#1c3440" stroke-opacity="0.6"/>
<circle cx="68.9" cy="619.3" r="12.0" fill="#52bca6" fill-opacity="0.9" stroke="#1d3b36" stroke-opacity="0.75"/>
<circle cx="62.6" cy="620.0" r="12.0" fill="#4fb8a0" fill-opacity="0.985" stroke="#0f2a25" stroke-opacity="1"/>
<circle cx="90.7" cy="575.4" r="12.0" fill="#52bca6" fill-opacity="0.9" stroke="#1d3b36" stroke-opacity="0.75"/>
<circle cx="95.9" cy="590.0" r="12.0" fill="#52bca6" fill-opacity="0.9" stroke="#1d3b36" stroke-opacity="0.75"/>
<circle cx="119.7" cy="587.5" r="12.0" fill="#52bca6" fill-opacity="0.9" stroke="#1d3b36" stroke-opacity="0.75"/>
<circle cx="125.2" cy="628.0" r="12.0" fill="#52bca6" fill-opacity="0.9" stroke="#1d3b36" stroke-opacity="0.75"/>
<circle cx="122.0" cy="631.3" r="12.0" fill="#3f86a3" fill-opacity="0.99" stroke="#0b1f29" stroke-opacity="1"/>
<circle cx="83.1" cy="648.1" r="12.0" fill="#52bca6" fill-opacity="0.9" stroke="#1d3b36" stroke-opacity="0.75"/>
<circle cx="78.4" cy="674.4" r="12.0" fill="#4fb8a0" fill-opacity="0.985" stroke="#0f2a25" stroke-opacity="1"/>
<circle cx="92.2" cy="676.4" r="12.0" fill="#52bca6" fill-opacity="0.9" stroke="#1d3b36" stroke-opacity="0.75"/>
<circle cx="86.4" cy="691.4" r="12.0" fill="#52bca6" fill-opacity="0.9" stroke="#1d3b36" stroke-opacity="0.75"/>
<circle cx="131.5" cy="686.1" r="12.0" fill="#4fb8a0" fill-opacity="0.985" stroke="#0f2a25" stroke-opacity="1"/>
<circle cx="102.2" cy="716.4" r="12.0" fill="#4fb8a0" fill-opacity="0.985" stroke="#0f2a25" stroke-opacity="1"/>
<circle cx="117.0" cy="718.2" r="12.0" fill="#52bca6" fill-opacity="0.9" stroke="#1d3b36" stroke-opacity="0.75"/>
<circle cx="112.7" cy="730.7" r="12.0" fill="#52bca6" fill-opacity="0.9" stroke="#1d3b36" stroke-opacity="0.75"/>
<circle cx="126.5" cy="732.0" r="12.0" fill="#52bca6" fill-opacity="0.9" stroke="#1d3b36" stroke-opacity="0.75"/>
<circle cx="144.0" cy="734.5" r="12.0" fill="#4287a7" fill-opacity="0.95" stroke="#152a36" stroke-opacity="0.85"/>
<circle cx="152.8" cy="735.7" r="12.0" fill="#52bca6" fill-opacity="0.9" stroke="#1d3b36" stroke-opacity="0.75"/>
<circle cx="142.7" cy="740.7" r="12.0" fill="#3f86a3" fill-opacity="0.99" stroke="#0b1f29" stroke-opacity="1"/>
<circle cx="130.2" cy="742.0" r="12.0" fill="#52bca6" fill-opacity="0.9" stroke="#1d3b36" stroke-opacity="0.75"/>
<circle cx="136.5" cy="752.0" r="12.0" fill="#52bca6" fill-opacity="0.9" stroke="#1d3b36" stroke-opacity="0.75"/>
<circle cx="146.5" cy="755.3" r="12.0" fill="#3f86a3" fill-opacity="0.99" stroke="#0b1f29" stroke-opacity="1"/>
<circle cx="152.8" cy="762.0" r="12.0" fill="#52bca6" fill-opacity="0.9" stroke="#1d3b36" stroke-opacity="0.75"/>
<circle cx="174.6" cy="747.0" r="12.0" fill="#52bca6" fill-opacity="0.9" stroke="#1d3b36" stroke-opacity="0.75"/>
<circle cx="191.6" cy="759.5" r="12.0" fill="#52bca6" fill-opacity="0.9" stroke="#1d3b36" stroke-opacity="0.75"/>
<circle cx="200.4" cy="765.8" r="12.0" fill="#4fb8a0" fill-opacity="0.985" stroke="#0f2a25" stroke-opacity="1"/>
<circle cx="260.5" cy="761.5" r="12.0" fill="#52bca6" fill-opacity="0.9" stroke="#1d3b36" stroke-opacity="0.75"/>
<circle cx="318.1" cy="757.5" r="12.0" fill="#52bca6" fill-opacity="0.9" stroke="#1d3b36" stroke-opacity="0.75"/>
<circle cx="346.9" cy="737.5" r="12.0" fill="#4fb8a0" fill-opacity="0.985" stroke="#0f2a25" stroke-opacity="1"/>
<circle cx="381.4" cy="717.7" r="12.0" fill="#52bca6" fill-opacity="0.9" stroke="#1d3b36" stroke-opacity="0.75"/>
<circle cx="364.9" cy="704.9" r="12.0" fill="#52bca6" fill-opacity="0.9" stroke="#1d3b36" stroke-opacity="0.75"/>
<circle cx="339.3" cy="701.9" r="12.0" fill="#52bca6" fill-opacity="0.9" stroke="#1d3b36" stroke-opacity="0.75"/>
<circle cx="363.1" cy="674.4" r="12.0" fill="#52bca6" fill-opacity="0.9" stroke="#1d3b36" stroke-opacity="0.75"/>
<circle cx="303.0" cy="656.8" r="12.0" fill="#4589aa" fill-opacity="0.88" stroke="#1c3440" stroke-opacity="0.6"/>
<circle cx="322.6" cy="635.5" r="12.0" fill="#52bca6" fill-opacity="0.9" stroke="#1d3b36" stroke-opacity="0.75"/>
<circle cx="284.2" cy="627.5" r="12.0" fill="#52bca6" fill-opacity="0.9" stroke="#1d3b36" stroke-opacity="0.75"/>
<circle cx="274.7" cy="584.2" r="12.0" fill="#52bca6" fill-opacity="0.9" stroke="#1d3b36" stroke-opacity="0.75"/>
<circle cx="205.9" cy="598.7" r="12.0" fill="#52bca6" fill-opacity="0.9" stroke="#1d3b36" stroke-opacity="0.75"/>
<circle cx="250.9" cy="682.6" r="12.0" fill="#4fb8a0" fill-opacity="0.985" stroke="#0f2a25" stroke-opacity="1"/>
<circle cx="231.7" cy="717.7" r="12.0" fill="#52bca6" fill-opacity="0.9" stroke="#1d3b36" stroke-opacity="0.75"/>
<circle cx="213.4" cy="726.2" r="12.0" fill="#4589aa" fill-opacity="0.88" stroke="#1c3440" stroke-opacity="0.6"/>
<circle cx="283.7" cy="496.5" r="12.0" fill="#4fb8a0" fill-opacity="0.985" stroke="#0f2a25" stroke-opacity="1"/>
<circle cx="381.9" cy="495.3" r="12.0" fill="#4fb8a0" fill-opacity="0.985" stroke="#0f2a25" stroke-opacity="1"/>
<circle cx="402.7" cy="516.1" r="12.0" fill="#52bca6" fill-opacity="0.9" stroke="#1d3b36" stroke-opacity="0.75"/>
<circle cx="385.7" cy="536.6" r="12.0" fill="#52bca6" fill-opacity="0.9" stroke="#1d3b36" stroke-opacity="0.75"/>
<circle cx="374.9" cy="530.9" r="12.0" fill="#3f86a3" fill-opacity="0.99" stroke="#0b1f29" stroke-opacity="1"/>
<circle cx="397.7" cy="578.4" r="12.0" fill="#4589aa" fill-opacity="0.88" stroke="#1c3440" stroke-opacity="0.6"/>
<circle cx="353.9" cy="608.0" r="12.0" fill="#52bca6" fill-opacity="0.9" stroke="#1d3b36" stroke-opacity="0.75"/>
<circle cx="356.9" cy="603.0" r="12.0" fill="#3f86a3" fill-opacity="0.99" stroke="#0b1f29" stroke-opacity="1"/>
<circle cx="537.0" cy="474.5" r="12.0" fill="#3f86a3" fill-opacity="0.99" stroke="#0b1f29" stroke-opacity="1"/>
<circle cx="562.0" cy="480.3" r="12.0" fill="#52bca6" fill-opacity="0.9" stroke="#1d3b36" stroke-opacity="0.75"/>
<circle cx="626.4" cy="482.8" r="12.0" fill="#52bca6" fill-opacity="0.9" stroke="#1d3b36" stroke-opacity="0.75"/>
<circle cx="645.2" cy="467.7" r="12.0" fill="#52bca6" fill-opacity="0.9" stroke="#1d3b36" stroke-opacity="0.75"/>
<circle cx="661.4" cy="482.8" r="12.0" fill="#4287a7" fill-opacity="0.95" stroke="#152a36" stroke-opacity="0.85"/>
<circle cx="660.9" cy="472.8" r="12.0" fill="#3f86a3" fill-opacity="0.99" stroke="#0b1f29" stroke-opacity="1"/>
<circle cx="684.7" cy="471.5" r="12.0" fill="#52bca6" fill-opacity="0.9" stroke="#1d3b36" stroke-opacity="0.75"/>
<circle cx="747.3" cy="476.5" r="12.0" fill="#4589aa" fill-opacity="0.88" stroke="#1c3440" stroke-opacity="0.6"/>
<circle cx="719.8" cy="497.3" r="12.0" fill="#3f86a3" fill-opacity="0.99" stroke="#0b1f29" stroke-opacity="1"/>
<circle cx="790.4" cy="491.5" r="12.0" fill="#3f86a3" fill-opacity="0.99" stroke="#0b1f29" stroke-opacity="1"/>
<circle cx="804.9" cy="502.3" r="12.0" fill="#4287a7" fill-opacity="0.95" stroke="#152a36" stroke-opacity="0.85"/>
<circle cx="777.1" cy="519.8" r="12.0" fill="#3f86a3" fill-opacity="0.99" stroke="#0b1f29" stroke-opacity="1"/>
<circle cx="452.8" cy="511.1" r="12.0" fill="#4fb8a0" fill-opacity="0.985" stroke="#0f2a25" stroke-opacity="1"/>
<circle cx="507.4" cy="510.3" r="12.0" fill="#52bca6" fill-opacity="0.9" stroke="#1d3b36" stroke-opacity="0.75"/>
<circle cx="517.9" cy="524.6" r="12.0" fill="#52bca6" fill-opacity="0.9" stroke="#1d3b36" stroke-opacity="0.75"/>
<circle cx="550.5" cy="533.6" r="12.0" fill="#3f86a3" fill-opacity="0.99" stroke="#0b1f29" stroke-opacity="1"/>
<circle cx="587.0" cy="505.8" r="12.0" fill="#52bca6" fill-opacity="0.9" stroke="#1d3b36" stroke-opacity="0.75"/>
<circle cx="591.8" cy="509.1" r="12.0" fill="#4589aa" fill-opacity="0.88" stroke="#1c3440" stroke-opacity="0.6"/>
<circle cx="627.6" cy="510.8" r="12.0" fill="#3f86a3" fill-opacity="0.99" stroke="#0b1f29" stroke-opacity="1"/>
<circle cx="424.8" cy="555.4" r="12.0" fill="#52bca6" fill-opacity="0.9" stroke="#1d3b36" stroke-opacity="0.75"/>
<circle cx="438.5" cy="552.4" r="12.0" fill="#52bca6" fill-opacity="0.9" stroke="#1d3b36" stroke-opacity="0.75"/>
<circle cx="493.1" cy="556.7" r="12.0" fill="#52bca6" fill-opacity="0.9" stroke="#1d3b36" stroke-opacity="0.75"/>
<circle cx="513.2" cy="560.9" r="12.0" fill="#3f86a3" fill-opacity="0.99" stroke="#0b1f29" stroke-opacity="1"/>
<circle cx="548.7" cy="567.9" r="12.0" fill="#52bca6" fill-opacity="0.9" stroke="#1d3b36" stroke-opacity="0.75"/>
<circle cx="563.8" cy="561.7" r="12.0" fill="#4fb8a0" fill-opacity="0.985" stroke="#0f2a25" stroke-opacity="1"/>
<circle cx="572.5" cy="569.2" r="12.0" fill="#52bca6" fill-opacity="0.9" stroke="#1d3b36" stroke-opacity="0.75"/>
<circle cx="552.5" cy="581.7" r="12.0" fill="#52bca6" fill-opacity="0.9" stroke="#1d3b36" stroke-opacity="0.75"/>
<circle cx="562.0" cy="593.0" r="12.0" fill="#3f86a3" fill-opacity="0.99" stroke="#0b1f29" stroke-opacity="1"/>
<circle cx="563.3" cy="598.0" r="12.0" fill="#4fb8a0" fill-opacity="0.985" stroke="#0f2a25" stroke-opacity="1"/>
<circle cx="493.6" cy="593.0" r="12.0" fill="#52bca6" fill-opacity="0.9" stroke="#1d3b36" stroke-opacity="0.75"/>
<circle cx="497.4" cy="599.2" r="12.0" fill="#52bca6" fill-opacity="0.9" stroke="#1d3b36" stroke-opacity="0.75"/>
<circle cx="508.7" cy="606.7" r="12.0" fill="#52bca6" fill-opacity="0.9" stroke="#1d3b36" stroke-opacity="0.75"/>
<circle cx="521.7" cy="593.5" r="12.0" fill="#4fb8a0" fill-opacity="0.985" stroke="#0f2a25" stroke-opacity="1"/>
<circle cx="531.7" cy="600.5" r="12.0" fill="#52bca6" fill-opacity="0.9" stroke="#1d3b36" stroke-opacity="0.75"/>
<circle cx="458.1" cy="607.2" r="12.0" fill="#4fb8a0" fill-opacity="0.985" stroke="#0f2a25" stroke-opacity="1"/>
<circle cx="477.4" cy="618.0" r="12.0" fill="#52bca6" fill-opacity="0.9" stroke="#1d3b36" stroke-opacity="0.75"/>
<circle cx="484.1" cy="618.0" r="12.0" fill="#52bca6" fill-opacity="0.9" stroke="#1d3b36" stroke-opacity="0.75"/>
<circle cx="502.4" cy="619.3" r="12.0" fill="#52bca6" fill-opacity="0.9" stroke="#1d3b36" stroke-opacity="0.75"/>
<circle cx="499.1" cy="628.0" r="12.0" fill="#52bca6" fill-opacity="0.9" stroke="#1d3b36" stroke-opacity="0.75"/>
<circle cx="464.1" cy="631.8" r="12.0" fill="#4fb8a0" fill-opacity="0.985" stroke="#0f2a25" stroke-opacity="1"/>
<circle cx="427.3" cy="621.8" r="12.0" fill="#52bca6" fill-opacity="0.9" stroke="#1d3b36" stroke-opacity="0.75"/>
<circle cx="528.7" cy="635.5" r="12.0" fill="#52bca6" fill-opacity="0.9" stroke="#1d3b36" stroke-opacity="0.75"/>
<circle cx="557.5" cy="621.8" r="12.0" fill="#52bca6" fill-opacity="0.9" stroke="#1d3b36" stroke-opacity="0.75"/>
<circle cx="562.0" cy="627.3" r="12.0" fill="#4fb8a0" fill-opacity="0.985" stroke="#0f2a25" stroke-opacity="1"/>
<circle cx="567.5" cy="650.6" r="12.0" fill="#3f86a3" fill-opacity="0.99" stroke="#0b1f29" stroke-opacity="1"/>
<circle cx="429.8" cy="648.8" r="12.0" fill="#52bca6" fill-opacity="0.9" stroke="#1d3b36" stroke-opacity="0.75"/>
<circle cx="474.1" cy="652.6" r="12.0" fill="#52bca6" fill-opacity="0.9" stroke="#1d3b36" stroke-opacity="0.75"/>
<circle cx="467.3" cy="660.6" r="12.0" fill="#52bca6" fill-opacity="0.9" stroke="#1d3b36" stroke-opacity="0.75"/>
<circle cx="448.6" cy="670.6" r="12.0" fill="#4fb8a0" fill-opacity="0.985" stroke="#0f2a25" stroke-opacity="1"/>
<circle cx="469.3" cy="676.4" r="12.0" fill="#4fb8a0" fill-opacity="0.985" stroke="#0f2a25" stroke-opacity="1"/>
<circle cx="476.1" cy="683.9" r="12.0" fill="#52bca6" fill-opacity="0.9" stroke="#1d3b36" stroke-opacity="0.75"/>
<circle cx="493.6" cy="678.9" r="12.0" fill="#52bca6" fill-opacity="0.9" stroke="#1d3b36" stroke-opacity="0.75"/>
<circle cx="461.1" cy="693.1" r="12.0" fill="#52bca6" fill-opacity="0.9" stroke="#1d3b36" stroke-opacity="0.75"/>
<circle cx="456.8" cy="695.6" r="12.0" fill="#4fb8a0" fill-opacity="0.985" stroke="#0f2a25" stroke-opacity="1"/>
<circle cx="504.9" cy="695.1" r="12.0" fill="#52bca6" fill-opacity="0.9" stroke="#1d3b36" stroke-opacity="0.75"/>
<circle cx="530.7" cy="671.9" r="12.0" fill="#4fb8a0" fill-opacity="0.985" stroke="#0f2a25" stroke-opacity="1"/>
<circle cx="597.6" cy="663.1" r="12.0" fill="#52bca6" fill-opacity="0.9" stroke="#1d3b36" stroke-opacity="0.75"/>
<circle cx="624.6" cy="660.6" r="12.0" fill="#52bca6" fill-opacity="0.9" stroke="#1d3b36" stroke-opacity="0.75"/>
<circle cx="565.8" cy="692.6" r="12.0" fill="#52bca6" fill-opacity="0.9" stroke="#1d3b36" stroke-opacity="0.75"/>
<circle cx="567.5" cy="700.7" r="12.0" fill="#52bca6" fill-opacity="0.9" stroke="#1d3b36" stroke-opacity="0.75"/>
<circle cx="567.5" cy="709.4" r="12.0" fill="#52bca6" fill-opacity="0.9" stroke="#1d3b36" stroke-opacity="0.75"/>
<circle cx="585.5" cy="708.2" r="12.0" fill="#52bca6" fill-opacity="0.9" stroke="#1d3b36" stroke-opacity="0.75"/>
<circle cx="533.2" cy="711.9" r="12.0" fill="#52bca6" fill-opacity="0.9" stroke="#1d3b36" stroke-opacity="0.75"/>
<circle cx="516.2" cy="729.5" r="12.0" fill="#52bca6" fill-opacity="0.9" stroke="#1d3b36" stroke-opacity="0.75"/>
<circle cx="518.7" cy="742.7" r="12.0" fill="#4fb8a0" fill-opacity="0.985" stroke="#0f2a25" stroke-opacity="1"/>
<circle cx="540.5" cy="747.5" r="12.0" fill="#4fb8a0" fill-opacity="0.985" stroke="#0f2a25" stroke-opacity="1"/>
<circle cx="434.8" cy="738.2" r="12.0" fill="#4fb8a0" fill-opacity="0.985" stroke="#0f2a25" stroke-opacity="1"/>
<circle cx="429.8" cy="754.5" r="12.0" fill="#52bca6" fill-opacity="0.9" stroke="#1d3b36" stroke-opacity="0.75"/>
<circle cx="460.3" cy="755.8" r="12.0" fill="#52bca6" fill-opacity="0.9" stroke="#1d3b36" stroke-opacity="0.75"/>
<circle cx="495.6" cy="762.5" r="12.0" fill="#3f86a3" fill-opacity="0.99" stroke="#0b1f29" stroke-opacity="1"/>
<circle cx="554.5" cy="773.3" r="12.0" fill="#52bca6" fill-opacity="0.9" stroke="#1d3b36" stroke-opacity="0.75"/>
<circle cx="583.3" cy="767.8" r="12.0" fill="#52bca6" fill-opacity="0.9" stroke="#1d3b36" stroke-opacity="0.75"/>
<circle cx="621.4" cy="737.0" r="12.0" fill="#52bca6" fill-opacity="0.9" stroke="#1d3b36" stroke-opacity="0.75"/>
<circle cx="642.6" cy="703.9" r="12.0" fill="#52bca6" fill-opacity="0.9" stroke="#1d3b36" stroke-opacity="0.75"/>
<circle cx="653.9" cy="715.7" r="12.0" fill="#52bca6" fill-opacity="0.9" stroke="#1d3b36" stroke-opacity="0.75"/>
<circle cx="661.4" cy="734.5" r="12.0" fill="#52bca6" fill-opacity="0.9" stroke="#1d3b36" stroke-opacity="0.75"/>
<circle cx="633.9" cy="769.5" r="12.0" fill="#52bca6" fill-opacity="0.9" stroke="#1d3b36" stroke-opacity="0.75"/>
<circle cx="640.1" cy="769.5" r="12.0" fill="#4fb8a0" fill-opacity="0.985" stroke="#0f2a25" stroke-opacity="1"/>
<circle cx="719.8" cy="730.2" r="12.0" fill="#3f86a3" fill-opacity="0.99" stroke="#0b1f29" stroke-opacity="1"/>
<circle cx="706.5" cy="758.3" r="12.0" fill="#4589aa" fill-opacity="0.88" stroke="#1c3440" stroke-opacity="0.6"/>
<circle cx="727.0" cy="762.0" r="12.0" fill="#52bca6" fill-opacity="0.9" stroke="#1d3b36" stroke-opacity="0.75"/>
<circle cx="784.1" cy="741.2" r="12.0" fill="#4fb8a0" fill-opacity="0.985" stroke="#0f2a25" stroke-opacity="1"/>
<circle cx="771.6" cy="759.5" r="12.0" fill="#52bca6" fill-opacity="0.9" stroke="#1d3b36" stroke-opacity="0.75"/>
<circle cx="771.6" cy="767.0" r="12.0" fill="#4fb8a0" fill-opacity="0.985" stroke="#0f2a25" stroke-opacity="1"/>
<circle cx="772.9" cy="774.5" r="12.0" fill="#52bca6" fill-opacity="0.9" stroke="#1d3b36" stroke-opacity="0.75"/>
<circle cx="814.9" cy="740.7" r="12.0" fill="#3f86a3" fill-opacity="0.99" stroke="#0b1f29" stroke-opacity="1"/>
<circle cx="826.7" cy="734.5" r="12.0" fill="#4589aa" fill-opacity="0.88" stroke="#1c3440" stroke-opacity="0.6"/>
<circle cx="826.7" cy="773.3" r="12.0" fill="#4589aa" fill-opacity="0.88" stroke="#1c3440" stroke-opacity="0.6"/>
<circle cx="664.7" cy="615.5" r="12.0" fill="#52bca6" fill-opacity="0.9" stroke="#1d3b36" stroke-opacity="0.75"/>
<circle cx="671.9" cy="614.8" r="12.0" fill="#4589aa" fill-opacity="0.88" stroke="#1c3440" stroke-opacity="0.6"/>
<circle cx="706.5" cy="617.5" r="12.0" fill="#52bca6" fill-opacity="0.9" stroke="#1d3b36" stroke-opacity="0.75"/>
<circle cx="720.3" cy="636.8" r="12.0" fill="#52bca6" fill-opacity="0.9" stroke="#1d3b36" stroke-opacity="0.75"/>
<circle cx="738.3" cy="636.8" r="12.0" fill="#4589aa" fill-opacity="0.88" stroke="#1c3440" stroke-opacity="0.6"/>
<circle cx="735.3" cy="656.3" r="12.0" fill="#52bca6" fill-opacity="0.9" stroke="#1d3b36" stroke-opacity="0.75"/>
<circle cx="769.6" cy="638.5" r="12.0" fill="#52bca6" fill-opacity="0.9" stroke="#1d3b36" stroke-opacity="0.75"/>
<circle cx="797.9" cy="617.3" r="12.0" fill="#52bca6" fill-opacity="0.9" stroke="#1d3b36" stroke-opacity="0.75"/>
<circle cx="823.0" cy="631.8" r="12.0" fill="#4589aa" fill-opacity="0.88" stroke="#1c3440" stroke-opacity="0.6"/>
<circle cx="831.7" cy="634.3" r="12.0" fill="#4589aa" fill-opacity="0.88" stroke="#1c3440" stroke-opacity="0.6"/>
<circle cx="810.4" cy="655.6" r="12.0" fill="#52bca6" fill-opacity="0.9" stroke="#1d3b36" stroke-opacity="0.75"/>
<circle cx="759.6" cy="668.1" r="12.0" fill="#3f86a3" fill-opacity="0.99" stroke="#0b1f29" stroke-opacity="1"/>
<circle cx="777.1" cy="681.9" r="12.0" fill="#52bca6" fill-opacity="0.9" stroke="#1d3b36" stroke-opacity="0.75"/>
<circle cx="699.0" cy="677.4" r="12.0" fill="#52bca6" fill-opacity="0.9" stroke="#1d3b36" stroke-opacity="0.75"/>
<circle cx="675.2" cy="668.1" r="12.0" fill="#52bca6" fill-opacity="0.9" stroke="#1d3b36" stroke-opacity="0.75"/>
<circle cx="663.4" cy="668.1" r="12.0" fill="#4589aa" fill-opacity="0.88" stroke="#1c3440" stroke-opacity="0.6"/>
<circle cx="830.5" cy="683.1" r="12.0" fill="#52bca6" fill-opacity="0.9" stroke="#1d3b36" stroke-opacity="0.75"/>
<circle cx="683.5" cy="550.9" r="12.0" fill="#3f86a3" fill-opacity="0.99" stroke="#0b1f29" stroke-opacity="1"/>
<circle cx="711.5" cy="564.7" r="12.0" fill="#3f86a3" fill-opacity="0.99" stroke="#0b1f29" stroke-opacity="1"/>
<circle cx="749.1" cy="572.9" r="12.0" fill="#4fb8a0" fill-opacity="0.985" stroke="#0f2a25" stroke-opacity="1"/>
<circle cx="795.9" cy="565.4" r="12.0" fill="#3f86a3" fill-opacity="0.99" stroke="#0b1f29" stroke-opacity="1"/>
<circle cx="823.0" cy="546.6" r="12.0" fill="#52bca6" fill-opacity="0.9" stroke="#1d3b36" stroke-opacity="0.75"/>
<circle cx="817.5" cy="548.6" r="12.0" fill="#3f86a3" fill-opacity="0.99" stroke="#0b1f29" stroke-opacity="1"/>
<circle cx="839.5" cy="470.3" r="12.0" fill="#52bca6" fill-opacity="0.9" stroke="#1d3b36" stroke-opacity="0.75"/>
<circle cx="928.9" cy="470.3" r="12.0" fill="#52bca6" fill-opacity="0.9" stroke="#1d3b36" stroke-opacity="0.75"/>
<circle cx="891.4" cy="477.0" r="12.0" fill="#3f86a3" fill-opacity="0.99" stroke="#0b1f29" stroke-opacity="1"/>
<circle cx="966.0" cy="476.5" r="12.0" fill="#52bca6" fill-opacity="0.9" stroke="#1d3b36" stroke-opacity="0.75"/>
<circle cx="994.3" cy="474.5" r="12.0" fill="#3f86a3" fill-opacity="0.99" stroke="#0b1f29" stroke-opacity="1"/>
<circle cx="1034.1" cy="472.8" r="12.0" fill="#4287a7" fill-opacity="0.95" stroke="#152a36" stroke-opacity="0.85"/>
<circle cx="1094.2" cy="471.5" r="12.0" fill="#4287a7" fill-opacity="0.95" stroke="#152a36" stroke-opacity="0.85"/>
<circle cx="1126.3" cy="474.0" r="12.0" fill="#4fb8a0" fill-opacity="0.985" stroke="#0f2a25" stroke-opacity="1"/>
<circle cx="964.7" cy="487.8" r="12.0" fill="#52bca6" fill-opacity="0.9" stroke="#1d3b36" stroke-opacity="0.75"/>
<circle cx="959.7" cy="497.8" r="12.0" fill="#52bca6" fill-opacity="0.9" stroke="#1d3b36" stroke-opacity="0.75"/>
<circle cx="1037.9" cy="490.3" r="12.0" fill="#52bca6" fill-opacity="0.84" stroke="#1d3b36" stroke-opacity="0.55"/>
<circle cx="1099.5" cy="494.0" r="12.0" fill="#4287a7" fill-opacity="0.95" stroke="#152a36" stroke-opacity="0.85"/>
<circle cx="1146.3" cy="487.8" r="12.0" fill="#52bca6" fill-opacity="0.9" stroke="#1d3b36" stroke-opacity="0.75"/>
<circle cx="1151.3" cy="490.3" r="12.0" fill="#52bca6" fill-opacity="0.9" stroke="#1d3b36" stroke-opacity="0.75"/>
<circle cx="1157.6" cy="482.8" r="12.0" fill="#4287a7" fill-opacity="0.95" stroke="#152a36" stroke-opacity="0.85"/>
<circle cx="1167.6" cy="484.0" r="12.0" fill="#4287a7" fill-opacity="0.95" stroke="#152a36" stroke-opacity="0.85"/>
<circle cx="865.3" cy="501.6" r="12.0" fill="#3f86a3" fill-opacity="0.99" stroke="#0b1f29" stroke-opacity="1"/>
<circle cx="912.1" cy="499.1" r="12.0" fill="#52bca6" fill-opacity="0.9" stroke="#1d3b36" stroke-opacity="0.75"/>
<circle cx="915.4" cy="500.3" r="12.0" fill="#4287a7" fill-opacity="0.95" stroke="#152a36" stroke-opacity="0.85"/>
<circle cx="989.8" cy="504.1" r="12.0" fill="#52bca6" fill-opacity="0.9" stroke="#1d3b36" stroke-opacity="0.75"/>
<circle cx="1004.3" cy="504.1" r="12.0" fill="#52bca6" fill-opacity="0.9" stroke="#1d3b36" stroke-opacity="0.75"/>
<circle cx="989.3" cy="522.8" r="12.0" fill="#52bca6" fill-opacity="0.9" stroke="#1d3b36" stroke-opacity="0.75"/>
<circle cx="1014.8" cy="516.6" r="12.0" fill="#52bca6" fill-opacity="0.9" stroke="#1d3b36" stroke-opacity="0.75"/>
<circle cx="1033.6" cy="516.6" r="12.0" fill="#52bca6" fill-opacity="0.9" stroke="#1d3b36" stroke-opacity="0.75"/>
<circle cx="1044.9" cy="514.8" r="12.0" fill="#4fb8a0" fill-opacity="0.985" stroke="#0f2a25" stroke-opacity="1"/>
<circle cx="1052.4" cy="527.9" r="12.0" fill="#4287a7" fill-opacity="0.95" stroke="#152a36" stroke-opacity="0.85"/>
<circle cx="1061.2" cy="524.1" r="12.0" fill="#52bca6" fill-opacity="0.9" stroke="#1d3b36" stroke-opacity="0.75"/>
<circle cx="1053.6" cy="535.4" r="12.0" fill="#52bca6" fill-opacity="0.9" stroke="#1d3b36" stroke-opacity="0.75"/>
<circle cx="1012.3" cy="537.9" r="12.0" fill="#52bca6" fill-opacity="0.9" stroke="#1d3b36" stroke-opacity="0.75"/>
<circle cx="1026.1" cy="536.6" r="12.0" fill="#52bca6" fill-opacity="0.9" stroke="#1d3b36" stroke-opacity="0.75"/>
<circle cx="1041.9" cy="544.1" r="12.0" fill="#52bca6" fill-opacity="0.9" stroke="#1d3b36" stroke-opacity="0.75"/>
<circle cx="1083.7" cy="519.1" r="12.0" fill="#4589aa" fill-opacity="0.88" stroke="#1c3440" stroke-opacity="0.6"/>
<circle cx="1095.0" cy="521.1" r="12.0" fill="#52bca6" fill-opacity="0.9" stroke="#1d3b36" stroke-opacity="0.75"/>
<circle cx="1131.3" cy="521.6" r="12.0" fill="#52bca6" fill-opacity="0.9" stroke="#1d3b36" stroke-opacity="0.75"/>
<circle cx="1133.3" cy="526.6" r="12.0" fill="#52bca6" fill-opacity="0.9" stroke="#1d3b36" stroke-opacity="0.75"/>
<circle cx="1157.6" cy="510.3" r="12.0" fill="#4287a7" fill-opacity="0.95" stroke="#152a36" stroke-opacity="0.85"/>
<circle cx="1156.3" cy="522.8" r="12.0" fill="#4589aa" fill-opacity="0.88" stroke="#1c3440" stroke-opacity="0.6"/>
<circle cx="1116.2" cy="537.9" r="12.0" fill="#4287a7" fill-opacity="0.95" stroke="#152a36" stroke-opacity="0.85"/>
<circle cx="1146.3" cy="547.1" r="12.0" fill="#52bca6" fill-opacity="0.9" stroke="#1d3b36" stroke-opacity="0.75"/>
<circle cx="1172.6" cy="549.1" r="12.0" fill="#52bca6" fill-opacity="0.9" stroke="#1d3b36" stroke-opacity="0.75"/>
<circle cx="1185.9" cy="522.8" r="12.0" fill="#52bca6" fill-opacity="0.9" stroke="#1d3b36" stroke-opacity="0.75"/>
<circle cx="1197.6" cy="521.6" r="12.0" fill="#52bca6" fill-opacity="0.9" stroke="#1d3b36" stroke-opacity="0.75"/>
<circle cx="1208.9" cy="509.1" r="12.0" fill="#4287a7" fill-opacity="0.95" stroke="#152a36" stroke-opacity="0.85"/>
<circle cx="1225.7" cy="500.3" r="12.0" fill="#52bca6" fill-opacity="0.9" stroke="#1d3b36" stroke-opacity="0.75"/>
<circle cx="1220.2" cy="520.3" r="12.0" fill="#4287a7" fill-opacity="0.95" stroke="#152a36" stroke-opacity="0.85"/>
<circle cx="1232.7" cy="529.1" r="12.0" fill="#4589aa" fill-opacity="0.88" stroke="#1c3440" stroke-opacity="0.6"/>
<circle cx="1191.4" cy="541.6" r="12.0" fill="#52bca6" fill-opacity="0.9" stroke="#1d3b36" stroke-opacity="0.75"/>
<circle cx="1205.9" cy="536.6" r="12.0" fill="#52bca6" fill-opacity="0.9" stroke="#1d3b36" stroke-opacity="0.75"/>
<circle cx="1222.7" cy="546.6" r="12.0" fill="#52bca6" fill-opacity="0.9" stroke="#1d3b36" stroke-opacity="0.75"/>
<circle cx="1207.7" cy="551.6" r="12.0" fill="#52bca6" fill-opacity="0.9" stroke="#1d3b36" stroke-opacity="0.75"/>
<circle cx="1242.7" cy="559.2" r="12.0" fill="#52bca6" fill-opacity="0.9" stroke="#1d3b36" stroke-opacity="0.75"/>
<circle cx="1220.2" cy="564.2" r="12.0" fill="#4287a7" fill-opacity="0.95" stroke="#152a36" stroke-opacity="0.85"/>
<circle cx="1193.9" cy="566.7" r="12.0" fill="#4589aa" fill-opacity="0.88" stroke="#1c3440" stroke-opacity="0.6"/>
<circle cx="1181.4" cy="572.2" r="12.0" fill="#4287a7" fill-opacity="0.95" stroke="#152a36" stroke-opacity="0.85"/>
<circle cx="847.0" cy="520.3" r="12.0" fill="#52bca6" fill-opacity="0.9" stroke="#1d3b36" stroke-opacity="0.75"/>
<circle cx="880.8" cy="519.1" r="12.0" fill="#52bca6" fill-opacity="0.9" stroke="#1d3b36" stroke-opacity="0.75"/>
<circle cx="869.6" cy="526.6" r="12.0" fill="#52bca6" fill-opacity="0.9" stroke="#1d3b36" stroke-opacity="0.75"/>
<circle cx="879.6" cy="532.9" r="12.0" fill="#4589aa" fill-opacity="0.88" stroke="#1c3440" stroke-opacity="0.6"/>
<circle cx="888.3" cy="532.9" r="12.0" fill="#52bca6" fill-opacity="0.9" stroke="#1d3b36" stroke-opacity="0.75"/>
<circle cx="892.1" cy="542.9" r="12.0" fill="#52bca6" fill-opacity="0.9" stroke="#1d3b36" stroke-opacity="0.75"/>
<circle cx="874.6" cy="545.4" r="12.0" fill="#52bca6" fill-opacity="0.9" stroke="#1d3b36" stroke-opacity="0.75"/>
<circle cx="933.4" cy="519.1" r="12.0" fill="#52bca6" fill-opacity="0.9" stroke="#1d3b36" stroke-opacity="0.75"/>
<circle cx="938.9" cy="530.4" r="12.0" fill="#3f86a3" fill-opacity="0.99" stroke="#0b1f29" stroke-opacity="1"/>
<circle cx="966.0" cy="534.6" r="12.0" fill="#3f86a3" fill-opacity="0.99" stroke="#0b1f29" stroke-opacity="1"/>
<circle cx="915.4" cy="555.4" r="12.0" fill="#4fb8a0" fill-opacity="0.985" stroke="#0f2a25" stroke-opacity="1"/>
<circle cx="972.2" cy="555.4" r="12.0" fill="#52bca6" fill-opacity="0.9" stroke="#1d3b36" stroke-opacity="0.75"/>
<circle cx="994.8" cy="564.2" r="12.0" fill="#4287a7" fill-opacity="0.95" stroke="#152a36" stroke-opacity="0.85"/>
<circle cx="1012.3" cy="569.9" r="12.0" fill="#52bca6" fill-opacity="0.9" stroke="#1d3b36" stroke-opacity="0.75"/>
<circle cx="964.7" cy="574.2" r="12.0" fill="#4287a7" fill-opacity="0.95" stroke="#152a36" stroke-opacity="0.85"/>
<circle cx="943.4" cy="579.2" r="12.0" fill="#52bca6" fill-opacity="0.9" stroke="#1d3b36" stroke-opacity="0.75"/>
<circle cx="837.0" cy="557.9" r="12.0" fill="#4589aa" fill-opacity="0.88" stroke="#1c3440" stroke-opacity="0.6"/>
<circle cx="873.3" cy="571.7" r="12.0" fill="#52bca6" fill-opacity="0.9" stroke="#1d3b36" stroke-opacity="0.75"/>
<circle cx="847.0" cy="582.4" r="12.0" fill="#52bca6" fill-opacity="0.9" stroke="#1d3b36" stroke-opacity="0.75"/>
<circle cx="911.6" cy="586.2" r="12.0" fill="#52bca6" fill-opacity="0.9" stroke="#1d3b36" stroke-opacity="0.75"/>
<circle cx="884.6" cy="602.5" r="12.0" fill="#52bca6" fill-opacity="0.9" stroke="#1d3b36" stroke-opacity="0.75"/>
<circle cx="945.2" cy="595.5" r="12.0" fill="#3f86a3" fill-opacity="0.99" stroke="#0b1f29" stroke-opacity="1"/>
<circle cx="962.2" cy="606.7" r="12.0" fill="#52bca6" fill-opacity="0.9" stroke="#1d3b36" stroke-opacity="0.75"/>
<circle cx="979.0" cy="601.0" r="12.0" fill="#4589aa" fill-opacity="0.88" stroke="#1c3440" stroke-opacity="0.6"/>
<circle cx="996.0" cy="598.0" r="12.0" fill="#52bca6" fill-opacity="0.9" stroke="#1d3b36" stroke-opacity="0.75"/>
<circle cx="1034.9" cy="582.4" r="12.0" fill="#3f86a3" fill-opacity="0.99" stroke="#0b1f29" stroke-opacity="1"/>
<circle cx="1037.9" cy="606.2" r="12.0" fill="#4589aa" fill-opacity="0.88" stroke="#1c3440" stroke-opacity="0.6"/>
<circle cx="1104.2" cy="558.7" r="12.0" fill="#52bca6" fill-opacity="0.9" stroke="#1d3b36" stroke-opacity="0.75"/>
<circle cx="1123.8" cy="560.4" r="12.0" fill="#52bca6" fill-opacity="0.9" stroke="#1d3b36" stroke-opacity="0.75"/>
<circle cx="1107.5" cy="574.2" r="12.0" fill="#52bca6" fill-opacity="0.9" stroke="#1d3b36" stroke-opacity="0.75"/>
<circle cx="1113.7" cy="572.2" r="12.0" fill="#4287a7" fill-opacity="0.95" stroke="#152a36" stroke-opacity="0.85"/>
<circle cx="1135.0" cy="572.9" r="12.0" fill="#52bca6" fill-opacity="0.9" stroke="#1d3b36" stroke-opacity="0.75"/>
<circle cx="1115.0" cy="582.9" r="12.0" fill="#52bca6" fill-opacity="0.9" stroke="#1d3b36" stroke-opacity="0.75"/>
<circle cx="1093.7" cy="590.5" r="12.0" fill="#4287a7" fill-opacity="0.95" stroke="#152a36" stroke-opacity="0.85"/>
<circle cx="1148.8" cy="584.2" r="12.0" fill="#4287a7" fill-opacity="0.95" stroke="#152a36" stroke-opacity="0.85"/>
<circle cx="1157.6" cy="582.9" r="12.0" fill="#4fb8a0" fill-opacity="0.985" stroke="#0f2a25" stroke-opacity="1"/>
<circle cx="1134.3" cy="595.0" r="12.0" fill="#4fb8a0" fill-opacity="0.985" stroke="#0f2a25" stroke-opacity="1"/>
<circle cx="1142.5" cy="610.5" r="12.0" fill="#3f86a3" fill-opacity="0.99" stroke="#0b1f29" stroke-opacity="1"/>
<circle cx="1085.4" cy="613.8" r="12.0" fill="#3f86a3" fill-opacity="0.99" stroke="#0b1f29" stroke-opacity="1"/>
<circle cx="1185.1" cy="594.2" r="12.0" fill="#52bca6" fill-opacity="0.9" stroke="#1d3b36" stroke-opacity="0.75"/>
<circle cx="1209.4" cy="593.0" r="12.0" fill="#4287a7" fill-opacity="0.95" stroke="#152a36" stroke-opacity="0.85"/>
<circle cx="1225.2" cy="593.0" r="12.0" fill="#52bca6" fill-opacity="0.9" stroke="#1d3b36" stroke-opacity="0.75"/>
<circle cx="1187.6" cy="619.3" r="12.0" fill="#52bca6" fill-opacity="0.9" stroke="#1d3b36" stroke-opacity="0.75"/>
<circle cx="1198.9" cy="625.5" r="12.0" fill="#52bca6" fill-opacity="0.9" stroke="#1d3b36" stroke-opacity="0.75"/>
<circle cx="1205.2" cy="628.0" r="12.0" fill="#52bca6" fill-opacity="0.9" stroke="#1d3b36" stroke-opacity="0.75"/>
<circle cx="1228.9" cy="626.8" r="12.0" fill="#4fb8a0" fill-opacity="0.985" stroke="#0f2a25" stroke-opacity="1"/>
<circle cx="1135.8" cy="633.0" r="12.0" fill="#4589aa" fill-opacity="0.88" stroke="#1c3440" stroke-opacity="0.6"/>
<circle cx="1155.1" cy="660.6" r="12.0" fill="#52bca6" fill-opacity="0.9" stroke="#1d3b36" stroke-opacity="0.75"/>
<circle cx="1148.1" cy="649.3" r="12.0" fill="#3f86a3" fill-opacity="0.99" stroke="#0b1f29" stroke-opacity="1"/>
<circle cx="1178.1" cy="640.6" r="12.0" fill="#4287a7" fill-opacity="0.95" stroke="#152a36" stroke-opacity="0.85"/>
<circle cx="1111.2" cy="645.6" r="12.0" fill="#3f86a3" fill-opacity="0.99" stroke="#0b1f29" stroke-opacity="1"/>
<circle cx="1110.5" cy="666.8" r="12.0" fill="#3f86a3" fill-opacity="0.99" stroke="#0b1f29" stroke-opacity="1"/>
<circle cx="1042.4" cy="633.8" r="12.0" fill="#4287a7" fill-opacity="0.95" stroke="#152a36" stroke-opacity="0.85"/>
<circle cx="1058.6" cy="634.8" r="12.0" fill="#3f86a3" fill-opacity="0.99" stroke="#0b1f29" stroke-opacity="1"/>
<circle cx="1020.3" cy="651.8" r="12.0" fill="#52bca6" fill-opacity="0.9" stroke="#1d3b36" stroke-opacity="0.75"/>
<circle cx="982.3" cy="642.3" r="12.0" fill="#3f86a3" fill-opacity="0.99" stroke="#0b1f29" stroke-opacity="1"/>
<circle cx="933.4" cy="624.3" r="12.0" fill="#52bca6" fill-opacity="0.9" stroke="#1d3b36" stroke-opacity="0.75"/>
<circle cx="920.9" cy="633.0" r="12.0" fill="#4fb8a0" fill-opacity="0.985" stroke="#0f2a25" stroke-opacity="1"/>
<circle cx="925.9" cy="647.3" r="12.0" fill="#52bca6" fill-opacity="0.9" stroke="#1d3b36" stroke-opacity="0.75"/>
<circle cx="860.8" cy="624.3" r="12.0" fill="#52bca6" fill-opacity="0.9" stroke="#1d3b36" stroke-opacity="0.75"/>
<circle cx="856.3" cy="629.3" r="12.0" fill="#4fb8a0" fill-opacity="0.985" stroke="#0f2a25" stroke-opacity="1"/>
<circle cx="838.3" cy="634.3" r="12.0" fill="#52bca6" fill-opacity="0.9" stroke="#1d3b36" stroke-opacity="0.75"/>
<circle cx="880.8" cy="641.8" r="12.0" fill="#4589aa" fill-opacity="0.88" stroke="#1c3440" stroke-opacity="0.6"/>
<circle cx="938.4" cy="670.1" r="12.0" fill="#4589aa" fill-opacity="0.88" stroke="#1c3440" stroke-opacity="0.6"/>
<circle cx="978.0" cy="674.9" r="12.0" fill="#52bca6" fill-opacity="0.9" stroke="#1d3b36" stroke-opacity="0.75"/>
<circle cx="1012.8" cy="674.4" r="12.0" fill="#4fb8a0" fill-opacity="0.985" stroke="#0f2a25" stroke-opacity="1"/>
<circle cx="1058.6" cy="661.8" r="12.0" fill="#4287a7" fill-opacity="0.95" stroke="#152a36" stroke-opacity="0.85"/>
<circle cx="1057.4" cy="669.4" r="12.0" fill="#52bca6" fill-opacity="0.9" stroke="#1d3b36" stroke-opacity="0.75"/>
<circle cx="1073.7" cy="667.6" r="12.0" fill="#4589aa" fill-opacity="0.88" stroke="#1c3440" stroke-opacity="0.6"/>
<circle cx="1064.2" cy="685.6" r="12.0" fill="#3f86a3" fill-opacity="0.99" stroke="#0b1f29" stroke-opacity="1"/>
<circle cx="1005.3" cy="691.4" r="12.0" fill="#4589aa" fill-opacity="0.88" stroke="#1c3440" stroke-opacity="0.6"/>
<circle cx="1032.4" cy="696.9" r="12.0" fill="#4589aa" fill-opacity="0.88" stroke="#1c3440" stroke-opacity="0.6"/>
<circle cx="1043.1" cy="713.9" r="12.0" fill="#3f86a3" fill-opacity="0.99" stroke="#0b1f29" stroke-opacity="1"/>
<circle cx="1019.8" cy="718.2" r="12.0" fill="#52bca6" fill-opacity="0.9" stroke="#1d3b36" stroke-opacity="0.75"/>
<circle cx="1096.2" cy="694.4" r="12.0" fill="#3f86a3" fill-opacity="0.99" stroke="#0b1f29" stroke-opacity="1"/>
<circle cx="1149.3" cy="684.9" r="12.0" fill="#3f86a3" fill-opacity="0.99" stroke="#0b1f29" stroke-opacity="1"/>
<circle cx="1165.1" cy="689.4" r="12.0" fill="#52bca6" fill-opacity="0.9" stroke="#1d3b36" stroke-opacity="0.75"/>
<circle cx="1177.6" cy="694.4" r="12.0" fill="#52bca6" fill-opacity="0.9" stroke="#1d3b36" stroke-opacity="0.75"/>
<circle cx="1190.1" cy="673.9" r="12.0" fill="#4287a7" fill-opacity="0.95" stroke="#152a36" stroke-opacity="0.85"/>
<circle cx="1207.7" cy="661.8" r="12.0" fill="#4589aa" fill-opacity="0.88" stroke="#1c3440" stroke-opacity="0.6"/>
<circle cx="1217.7" cy="656.3" r="12.0" fill="#52bca6" fill-opacity="0.9" stroke="#1d3b36" stroke-opacity="0.75"/>
<circle cx="1207.7" cy="680.6" r="12.0" fill="#52bca6" fill-opacity="0.9" stroke="#1d3b36" stroke-opacity="0.75"/>
<circle cx="1242.7" cy="644.3" r="12.0" fill="#4589aa" fill-opacity="0.88" stroke="#1c3440" stroke-opacity="0.6"/>
<circle cx="1245.2" cy="664.3" r="12.0" fill="#4589aa" fill-opacity="0.88" stroke="#1c3440" stroke-opacity="0.6"/>
<circle cx="1242.7" cy="681.9" r="12.0" fill="#52bca6" fill-opacity="0.9" stroke="#1d3b36" stroke-opacity="0.75"/>
<circle cx="1218.9" cy="705.7" r="12.0" fill="#52bca6" fill-opacity="0.9" stroke="#1d3b36" stroke-opacity="0.75"/>
<circle cx="1235.2" cy="711.9" r="12.0" fill="#4589aa" fill-opacity="0.88" stroke="#1c3440" stroke-opacity="0.6"/>
<circle cx="1215.2" cy="724.4" r="12.0" fill="#52bca6" fill-opacity="0.9" stroke="#1d3b36" stroke-opacity="0.75"/>
<circle cx="1220.2" cy="730.7" r="12.0" fill="#4287a7" fill-opacity="0.95" stroke="#152a36" stroke-opacity="0.85"/>
<circle cx="1210.2" cy="735.7" r="12.0" fill="#4287a7" fill-opacity="0.95" stroke="#152a36" stroke-opacity="0.85"/>
<circle cx="1237.7" cy="739.5" r="12.0" fill="#52bca6" fill-opacity="0.9" stroke="#1d3b36" stroke-opacity="0.75"/>
<circle cx="1200.1" cy="745.7" r="12.0" fill="#52bca6" fill-opacity="0.9" stroke="#1d3b36" stroke-opacity="0.75"/>
<circle cx="1237.7" cy="754.5" r="12.0" fill="#4589aa" fill-opacity="0.88" stroke="#1c3440" stroke-opacity="0.6"/>
<circle cx="1223.9" cy="758.3" r="12.0" fill="#4287a7" fill-opacity="0.95" stroke="#152a36" stroke-opacity="0.85"/>
<circle cx="1175.1" cy="757.0" r="12.0" fill="#52bca6" fill-opacity="0.9" stroke="#1d3b36" stroke-opacity="0.75"/>
<circle cx="1174.6" cy="724.4" r="12.0" fill="#3f86a3" fill-opacity="0.99" stroke="#0b1f29" stroke-opacity="1"/>
<circle cx="1127.0" cy="722.7" r="12.0" fill="#3f86a3" fill-opacity="0.99" stroke="#0b1f29" stroke-opacity="1"/>
<circle cx="1089.5" cy="725.7" r="12.0" fill="#4fb8a0" fill-opacity="0.985" stroke="#0f2a25" stroke-opacity="1"/>
<circle cx="1108.7" cy="754.5" r="12.0" fill="#52bca6" fill-opacity="0.9" stroke="#1d3b36" stroke-opacity="0.75"/>
<circle cx="1136.8" cy="763.3" r="12.0" fill="#4fb8a0" fill-opacity="0.985" stroke="#0f2a25" stroke-opacity="1"/>
<circle cx="1155.1" cy="772.0" r="12.0" fill="#3f86a3" fill-opacity="0.99" stroke="#0b1f29" stroke-opacity="1"/>
<circle cx="1192.6" cy="774.5" r="12.0" fill="#52bca6" fill-opacity="0.9" stroke="#1d3b36" stroke-opacity="0.75"/>
<circle cx="853.3" cy="691.9" r="12.0" fill="#52bca6" fill-opacity="0.9" stroke="#1d3b36" stroke-opacity="0.75"/>
<circle cx="859.5" cy="704.4" r="12.0" fill="#4589aa" fill-opacity="0.88" stroke="#1c3440" stroke-opacity="0.6"/>
<circle cx="894.6" cy="699.4" r="12.0" fill="#3f86a3" fill-opacity="0.99" stroke="#0b1f29" stroke-opacity="1"/>
<circle cx="897.1" cy="721.9" r="12.0" fill="#52bca6" fill-opacity="0.9" stroke="#1d3b36" stroke-opacity="0.75"/>
<circle cx="844.5" cy="725.7" r="12.0" fill="#52bca6" fill-opacity="0.9" stroke="#1d3b36" stroke-opacity="0.75"/>
<circle cx="962.2" cy="704.4" r="12.0" fill="#52bca6" fill-opacity="0.9" stroke="#1d3b36" stroke-opacity="0.75"/>
<circle cx="937.7" cy="715.7" r="12.0" fill="#52bca6" fill-opacity="0.9" stroke="#1d3b36" stroke-opacity="0.75"/>
<circle cx="870.3" cy="743.2" r="12.0" fill="#3f86a3" fill-opacity="0.99" stroke="#0b1f29" stroke-opacity="1"/>
<circle cx="931.7" cy="748.2" r="12.0" fill="#4589aa" fill-opacity="0.88" stroke="#1c3440" stroke-opacity="0.6"/>
<circle cx="974.0" cy="747.7" r="12.0" fill="#3f86a3" fill-opacity="0.99" stroke="#0b1f29" stroke-opacity="1"/>
<circle cx="1028.6" cy="752.0" r="12.0" fill="#52bca6" fill-opacity="0.9" stroke="#1d3b36" stroke-opacity="0.75"/>
<circle cx="1043.1" cy="750.7" r="12.0" fill="#4589aa" fill-opacity="0.88" stroke="#1c3440" stroke-opacity="0.6"/>
<circle cx="1003.0" cy="770.8" r="12.0" fill="#3f86a3" fill-opacity="0.99" stroke="#0b1f29" stroke-opacity="1"/>
<circle cx="1249.8" cy="479.0" r="12.0" fill="#3f86a3" fill-opacity="0.99" stroke="#0b1f29" stroke-opacity="1"/>
<circle cx="1272.3" cy="477.8" r="12.0" fill="#3f86a3" fill-opacity="0.99" stroke="#0b1f29" stroke-opacity="1"/>
<circle cx="1286.1" cy="490.3" r="12.0" fill="#52bca6" fill-opacity="0.9" stroke="#1d3b36" stroke-opacity="0.75"/>
<circle cx="1296.1" cy="472.8" r="12.0" fill="#52bca6" fill-opacity="0.9" stroke="#1d3b36" stroke-opacity="0.75"/>
<circle cx="1301.1" cy="514.1" r="12.0" fill="#4589aa" fill-opacity="0.88" stroke="#1c3440" stroke-opacity="0.6"/>
<circle cx="1262.3" cy="541.6" r="12.0" fill="#3f86a3" fill-opacity="0.99" stroke="#0b1f29" stroke-opacity="1"/>
<circle cx="1294.8" cy="532.9" r="12.0" fill="#52bca6" fill-opacity="0.9" stroke="#1d3b36" stroke-opacity="0.75"/>
<circle cx="1292.3" cy="537.9" r="12.0" fill="#52bca6" fill-opacity="0.9" stroke="#1d3b36" stroke-opacity="0.75"/>
<circle cx="1246.0" cy="520.3" r="12.0" fill="#52bca6" fill-opacity="0.9" stroke="#1d3b36" stroke-opacity="0.75"/>
<circle cx="1248.5" cy="522.8" r="12.0" fill="#4fb8a0" fill-opacity="0.985" stroke="#0f2a25" stroke-opacity="1"/>
<circle cx="1268.0" cy="571.2" r="12.0" fill="#4fb8a0" fill-opacity="0.985" stroke="#0f2a25" stroke-opacity="1"/>
<circle cx="1286.1" cy="576.7" r="12.0" fill="#4589aa" fill-opacity="0.88" stroke="#1c3440" stroke-opacity="0.6"/>
<circle cx="1296.1" cy="591.0" r="12.0" fill="#52bca6" fill-opacity="0.9" stroke="#1d3b36" stroke-opacity="0.75"/>
<circle cx="1264.0" cy="595.5" r="12.0" fill="#52bca6" fill-opacity="0.9" stroke="#1d3b36" stroke-opacity="0.75"/>
<circle cx="1261.0" cy="616.8" r="12.0" fill="#52bca6" fill-opacity="0.9" stroke="#1d3b36" stroke-opacity="0.75"/>
<circle cx="1279.8" cy="618.0" r="12.0" fill="#52bca6" fill-opacity="0.9" stroke="#1d3b36" stroke-opacity="0.75"/>
<circle cx="1268.5" cy="629.3" r="12.0" fill="#52bca6" fill-opacity="0.9" stroke="#1d3b36" stroke-opacity="0.75"/>
<circle cx="1278.6" cy="634.3" r="12.0" fill="#52bca6" fill-opacity="0.9" stroke="#1d3b36" stroke-opacity="0.75"/>
<circle cx="1272.3" cy="624.3" r="12.0" fill="#4fb8a0" fill-opacity="0.985" stroke="#0f2a25" stroke-opacity="1"/>
<circle cx="1293.6" cy="636.8" r="12.0" fill="#4fb8a0" fill-opacity="0.985" stroke="#0f2a25" stroke-opacity="1"/>
<circle cx="1283.6" cy="657.3" r="12.0" fill="#4287a7" fill-opacity="0.95" stroke="#152a36" stroke-opacity="0.85"/>
<circle cx="1283.6" cy="670.6" r="12.0" fill="#52bca6" fill-opacity="0.9" stroke="#1d3b36" stroke-opacity="0.75"/>
<circle cx="1256.0" cy="705.7" r="12.0" fill="#52bca6" fill-opacity="0.9" stroke="#1d3b36" stroke-opacity="0.75"/>
<circle cx="1252.3" cy="721.9" r="12.0" fill="#52bca6" fill-opacity="0.9" stroke="#1d3b36" stroke-opacity="0.75"/>
<circle cx="1281.8" cy="703.2" r="12.0" fill="#3f86a3" fill-opacity="0.99" stroke="#0b1f29" stroke-opacity="1"/>
<circle cx="1287.3" cy="715.7" r="12.0" fill="#52bca6" fill-opacity="0.9" stroke="#1d3b36" stroke-opacity="0.75"/>
<circle cx="1283.6" cy="710.7" r="12.0" fill="#4fb8a0" fill-opacity="0.985" stroke="#0f2a25" stroke-opacity="1"/>
<circle cx="1276.1" cy="730.7" r="12.0" fill="#4589aa" fill-opacity="0.88" stroke="#1c3440" stroke-opacity="0.6"/>
<circle cx="1269.8" cy="738.2" r="12.0" fill="#4287a7" fill-opacity="0.95" stroke="#152a36" stroke-opacity="0.85"/>
<circle cx="1266.0" cy="751.5" r="12.0" fill="#3f86a3" fill-opacity="0.99" stroke="#0b1f29" stroke-opacity="1"/>
<circle cx="1328.6" cy="734.5" r="12.0" fill="#52bca6" fill-opacity="0.9" stroke="#1d3b36" stroke-opacity="0.75"/>
<circle cx="1328.1" cy="752.0" r="12.0" fill="#4589aa" fill-opacity="0.88" stroke="#1c3440" stroke-opacity="0.6"/>
<circle cx="1308.6" cy="769.5" r="12.0" fill="#4589aa" fill-opacity="0.88" stroke="#1c3440" stroke-opacity="0.6"/>
<circle cx="1362.5" cy="759.5" r="12.0" fill="#3f86a3" fill-opacity="0.99" stroke="#0b1f29" stroke-opacity="1"/>
<circle cx="1363.7" cy="720.7" r="12.0" fill="#52bca6" fill-opacity="0.9" stroke="#1d3b36" stroke-opacity="0.75"/>
<circle cx="1382.5" cy="721.9" r="12.0" fill="#52bca6" fill-opacity="0.9" stroke="#1d3b36" stroke-opacity="0.75"/>
<circle cx="1396.3" cy="735.7" r="12.0" fill="#52bca6" fill-opacity="0.84" stroke="#1d3b36" stroke-opacity="0.55"/>
<circle cx="1373.7" cy="738.2" r="12.0" fill="#4589aa" fill-opacity="0.88" stroke="#1c3440" stroke-opacity="0.6"/>
<circle cx="164.0" cy="796.0" r="12.0" fill="#4fb8a0" fill-opacity="0.985" stroke="#0f2a25" stroke-opacity="1"/>
<circle cx="212.9" cy="803.0" r="12.0" fill="#52bca6" fill-opacity="0.9" stroke="#1d3b36" stroke-opacity="0.75"/>
<circle cx="213.6" cy="809.3" r="12.0" fill="#52bca6" fill-opacity="0.9" stroke="#1d3b36" stroke-opacity="0.75"/>
<circle cx="240.9" cy="812.3" r="12.0" fill="#4fb8a0" fill-opacity="0.985" stroke="#0f2a25" stroke-opacity="1"/>
<circle cx="300.5" cy="814.3" r="12.0" fill="#52bca6" fill-opacity="0.9" stroke="#1d3b36" stroke-opacity="0.75"/>
<circle cx="328.1" cy="801.8" r="12.0" fill="#52bca6" fill-opacity="0.9" stroke="#1d3b36" stroke-opacity="0.75"/>
<circle cx="323.8" cy="800.0" r="12.0" fill="#4287a7" fill-opacity="0.95" stroke="#152a36" stroke-opacity="0.85"/>
<circle cx="341.8" cy="818.1" r="12.0" fill="#52bca6" fill-opacity="0.9" stroke="#1d3b36" stroke-opacity="0.75"/>
<circle cx="389.4" cy="780.5" r="12.0" fill="#52bca6" fill-opacity="0.9" stroke="#1d3b36" stroke-opacity="0.75"/>
<circle cx="389.9" cy="795.5" r="12.0" fill="#52bca6" fill-opacity="0.9" stroke="#1d3b36" stroke-opacity="0.75"/>
<circle cx="319.8" cy="856.9" r="12.0" fill="#52bca6" fill-opacity="0.9" stroke="#1d3b36" stroke-opacity="0.75"/>
<circle cx="350.1" cy="849.4" r="12.0" fill="#3f86a3" fill-opacity="0.99" stroke="#0b1f29" stroke-opacity="1"/>
<circle cx="347.6" cy="854.4" r="12.0" fill="#52bca6" fill-opacity="0.9" stroke="#1d3b36" stroke-opacity="0.75"/>
<circle cx="366.9" cy="878.2" r="12.0" fill="#52bca6" fill-opacity="0.9" stroke="#1d3b36" stroke-opacity="0.75"/>
<circle cx="388.7" cy="888.2" r="12.0" fill="#52bca6" fill-opacity="0.9" stroke="#1d3b36" stroke-opacity="0.75"/>
<circle cx="147.0" cy="906.5" r="12.0" fill="#4fb8a0" fill-opacity="0.985" stroke="#0f2a25" stroke-opacity="1"/>
<circle cx="115.2" cy="960.3" r="12.0" fill="#4fb8a0" fill-opacity="0.985" stroke="#0f2a25" stroke-opacity="1"/>
<circle cx="145.3" cy="978.4" r="12.0" fill="#52bca6" fill-opacity="0.9" stroke="#1d3b36" stroke-opacity="0.75"/>
<circle cx="156.5" cy="975.8" r="12.0" fill="#52bca6" fill-opacity="0.9" stroke="#1d3b36" stroke-opacity="0.75"/>
<circle cx="166.5" cy="967.6" r="12.0" fill="#52bca6" fill-opacity="0.9" stroke="#1d3b36" stroke-opacity="0.75"/>
<circle cx="203.4" cy="964.6" r="12.0" fill="#52bca6" fill-opacity="0.9" stroke="#1d3b36" stroke-opacity="0.75"/>
<circle cx="212.1" cy="972.8" r="12.0" fill="#52bca6" fill-opacity="0.9" stroke="#1d3b36" stroke-opacity="0.75"/>
<circle cx="136.5" cy="988.4" r="12.0" fill="#52bca6" fill-opacity="0.9" stroke="#1d3b36" stroke-opacity="0.75"/>
<circle cx="132.7" cy="994.6" r="12.0" fill="#52bca6" fill-opacity="0.9" stroke="#1d3b36" stroke-opacity="0.75"/>
<circle cx="149.8" cy="990.9" r="12.0" fill="#4fb8a0" fill-opacity="0.985" stroke="#0f2a25" stroke-opacity="1"/>
<circle cx="169.0" cy="985.9" r="12.0" fill="#52bca6" fill-opacity="0.9" stroke="#1d3b36" stroke-opacity="0.75"/>
<circle cx="195.3" cy="988.4" r="12.0" fill="#4fb8a0" fill-opacity="0.985" stroke="#0f2a25" stroke-opacity="1"/>
<circle cx="186.1" cy="992.1" r="12.0" fill="#52bca6" fill-opacity="0.9" stroke="#1d3b36" stroke-opacity="0.75"/>
<circle cx="120.2" cy="1000.4" r="12.0" fill="#52bca6" fill-opacity="0.9" stroke="#1d3b36" stroke-opacity="0.75"/>
<circle cx="222.9" cy="1004.1" r="12.0" fill="#52bca6" fill-opacity="0.9" stroke="#1d3b36" stroke-opacity="0.75"/>
<circle cx="149.5" cy="1014.7" r="12.0" fill="#52bca6" fill-opacity="0.9" stroke="#1d3b36" stroke-opacity="0.75"/>
<circle cx="182.1" cy="1021.4" r="12.0" fill="#52bca6" fill-opacity="0.9" stroke="#1d3b36" stroke-opacity="0.75"/>
<circle cx="210.4" cy="1022.2" r="12.0" fill="#52bca6" fill-opacity="0.9" stroke="#1d3b36" stroke-opacity="0.75"/>
<circle cx="227.1" cy="1028.4" r="12.0" fill="#52bca6" fill-opacity="0.9" stroke="#1d3b36" stroke-opacity="0.75"/>
<circle cx="206.6" cy="1036.0" r="12.0" fill="#52bca6" fill-opacity="0.9" stroke="#1d3b36" stroke-opacity="0.75"/>
<circle cx="87.7" cy="1022.2" r="12.0" fill="#52bca6" fill-opacity="0.9" stroke="#1d3b36" stroke-opacity="0.75"/>
<circle cx="86.4" cy="1027.2" r="12.0" fill="#52bca6" fill-opacity="0.9" stroke="#1d3b36" stroke-opacity="0.75"/>
<circle cx="103.9" cy="1022.2" r="12.0" fill="#52bca6" fill-opacity="0.9" stroke="#1d3b36" stroke-opacity="0.75"/>
<circle cx="110.2" cy="1040.2" r="12.0" fill="#3f86a3" fill-opacity="0.99" stroke="#0b1f29" stroke-opacity="1"/>
<circle cx="185.3" cy="1036.0" r="12.0" fill="#3f86a3" fill-opacity="0.99" stroke="#0b1f29" stroke-opacity="1"/>
<circle cx="176.6" cy="1046.0" r="12.0" fill="#4fb8a0" fill-opacity="0.985" stroke="#0f2a25" stroke-opacity="1"/>
<circle cx="175.3" cy="1057.2" r="12.0" fill="#52bca6" fill-opacity="0.9" stroke="#1d3b36" stroke-opacity="0.75"/>
<circle cx="116.5" cy="1063.5" r="12.0" fill="#52bca6" fill-opacity="0.9" stroke="#1d3b36" stroke-opacity="0.75"/>
<circle cx="129.5" cy="1064.8" r="12.0" fill="#52bca6" fill-opacity="0.9" stroke="#1d3b36" stroke-opacity="0.75"/>
<circle cx="146.5" cy="1061.0" r="12.0" fill="#52bca6" fill-opacity="0.9" stroke="#1d3b36" stroke-opacity="0.75"/>
<circle cx="45.6" cy="1076.0" r="12.0" fill="#52bca6" fill-opacity="0.9" stroke="#1d3b36" stroke-opacity="0.75"/>
<circle cx="169.8" cy="1082.3" r="12.0" fill="#52bca6" fill-opacity="0.9" stroke="#1d3b36" stroke-opacity="0.75"/>
<circle cx="281.7" cy="1047.2" r="12.0" fill="#52bca6" fill-opacity="0.9" stroke="#1d3b36" stroke-opacity="0.75"/>
<circle cx="290.5" cy="1056.0" r="12.0" fill="#3f86a3" fill-opacity="0.99" stroke="#0b1f29" stroke-opacity="1"/>
<circle cx="311.3" cy="1073.5" r="12.0" fill="#52bca6" fill-opacity="0.9" stroke="#1d3b36" stroke-opacity="0.75"/>
<circle cx="321.8" cy="1086.0" r="12.0" fill="#52bca6" fill-opacity="0.9" stroke="#1d3b36" stroke-opacity="0.75"/>
<circle cx="381.9" cy="1009.7" r="12.0" fill="#52bca6" fill-opacity="0.9" stroke="#1d3b36" stroke-opacity="0.75"/>
<circle cx="382.4" cy="1010.9" r="12.0" fill="#52bca6" fill-opacity="0.9" stroke="#1d3b36" stroke-opacity="0.75"/>
<circle cx="385.7" cy="1019.7" r="12.0" fill="#52bca6" fill-opacity="0.9" stroke="#1d3b36" stroke-opacity="0.75"/>
<circle cx="467.3" cy="784.3" r="12.0" fill="#4fb8a0" fill-opacity="0.985" stroke="#0f2a25" stroke-opacity="1"/>
<circle cx="484.1" cy="799.8" r="12.0" fill="#52bca6" fill-opacity="0.9" stroke="#1d3b36" stroke-opacity="0.75"/>
<circle cx="521.7" cy="798.0" r="12.0" fill="#52bca6" fill-opacity="0.9" stroke="#1d3b36" stroke-opacity="0.75"/>
<circle cx="592.1" cy="805.0" r="12.0" fill="#3f86a3" fill-opacity="0.99" stroke="#0b1f29" stroke-opacity="1"/>
<circle cx="518.2" cy="830.6" r="12.0" fill="#52bca6" fill-opacity="0.9" stroke="#1d3b36" stroke-opacity="0.75"/>
<circle cx="436.0" cy="842.6" r="12.0" fill="#52bca6" fill-opacity="0.9" stroke="#1d3b36" stroke-opacity="0.75"/>
<circle cx="439.8" cy="845.1" r="12.0" fill="#52bca6" fill-opacity="0.9" stroke="#1d3b36" stroke-opacity="0.75"/>
<circle cx="447.3" cy="864.4" r="12.0" fill="#52bca6" fill-opacity="0.9" stroke="#1d3b36" stroke-opacity="0.75"/>
<circle cx="479.9" cy="864.4" r="12.0" fill="#3f86a3" fill-opacity="0.99" stroke="#0b1f29" stroke-opacity="1"/>
<circle cx="486.9" cy="886.4" r="12.0" fill="#4fb8a0" fill-opacity="0.985" stroke="#0f2a25" stroke-opacity="1"/>
<circle cx="575.5" cy="853.9" r="12.0" fill="#52bca6" fill-opacity="0.9" stroke="#1d3b36" stroke-opacity="0.75"/>
<circle cx="635.9" cy="830.6" r="12.0" fill="#3f86a3" fill-opacity="0.99" stroke="#0b1f29" stroke-opacity="1"/>
<circle cx="634.6" cy="885.2" r="12.0" fill="#52bca6" fill-opacity="0.9" stroke="#1d3b36" stroke-opacity="0.75"/>
<circle cx="615.6" cy="895.0" r="12.0" fill="#4589aa" fill-opacity="0.88" stroke="#1c3440" stroke-opacity="0.6"/>
<circle cx="699.0" cy="876.4" r="12.0" fill="#52bca6" fill-opacity="0.9" stroke="#1d3b36" stroke-opacity="0.75"/>
<circle cx="675.7" cy="912.0" r="12.0" fill="#52bca6" fill-opacity="0.9" stroke="#1d3b36" stroke-opacity="0.75"/>
<circle cx="714.8" cy="795.5" r="12.0" fill="#52bca6" fill-opacity="0.9" stroke="#1d3b36" stroke-opacity="0.75"/>
<circle cx="743.6" cy="796.8" r="12.0" fill="#52bca6" fill-opacity="0.9" stroke="#1d3b36" stroke-opacity="0.75"/>
<circle cx="739.1" cy="823.6" r="12.0" fill="#52bca6" fill-opacity="0.9" stroke="#1d3b36" stroke-opacity="0.75"/>
<circle cx="780.9" cy="814.3" r="12.0" fill="#52bca6" fill-opacity="0.9" stroke="#1d3b36" stroke-opacity="0.75"/>
<circle cx="794.9" cy="791.8" r="12.0" fill="#52bca6" fill-opacity="0.9" stroke="#1d3b36" stroke-opacity="0.75"/>
<circle cx="821.7" cy="785.5" r="12.0" fill="#52bca6" fill-opacity="0.9" stroke="#1d3b36" stroke-opacity="0.75"/>
<circle cx="818.5" cy="849.4" r="12.0" fill="#52bca6" fill-opacity="0.9" stroke="#1d3b36" stroke-opacity="0.75"/>
<circle cx="790.9" cy="866.2" r="12.0" fill="#4fb8a0" fill-opacity="0.985" stroke="#0f2a25" stroke-opacity="1"/>
<circle cx="779.6" cy="912.0" r="12.0" fill="#4589aa" fill-opacity="0.88" stroke="#1c3440" stroke-opacity="0.6"/>
<circle cx="761.1" cy="927.8" r="12.0" fill="#52bca6" fill-opacity="0.9" stroke="#1d3b36" stroke-opacity="0.75"/>
<circle cx="729.8" cy="943.8" r="12.0" fill="#52bca6" fill-opacity="0.9" stroke="#1d3b36" stroke-opacity="0.75"/>
<circle cx="756.6" cy="948.3" r="12.0" fill="#52bca6" fill-opacity="0.9" stroke="#1d3b36" stroke-opacity="0.75"/>
<circle cx="759.9" cy="959.1" r="12.0" fill="#4fb8a0" fill-opacity="0.985" stroke="#0f2a25" stroke-opacity="1"/>
<circle cx="712.0" cy="965.1" r="12.0" fill="#52bca6" fill-opacity="0.9" stroke="#1d3b36" stroke-opacity="0.75"/>
<circle cx="797.9" cy="957.1" r="12.0" fill="#52bca6" fill-opacity="0.9" stroke="#1d3b36" stroke-opacity="0.75"/>
<circle cx="804.7" cy="947.0" r="12.0" fill="#3f86a3" fill-opacity="0.99" stroke="#0b1f29" stroke-opacity="1"/>
<circle cx="815.9" cy="966.3" r="12.0" fill="#52bca6" fill-opacity="0.9" stroke="#1d3b36" stroke-opacity="0.75"/>
<circle cx="734.8" cy="990.4" r="12.0" fill="#3f86a3" fill-opacity="0.99" stroke="#0b1f29" stroke-opacity="1"/>
<circle cx="766.6" cy="989.6" r="12.0" fill="#52bca6" fill-opacity="0.9" stroke="#1d3b36" stroke-opacity="0.75"/>
<circle cx="697.7" cy="1006.7" r="12.0" fill="#52bca6" fill-opacity="0.9" stroke="#1d3b36" stroke-opacity="0.75"/>
<circle cx="657.2" cy="989.6" r="12.0" fill="#52bca6" fill-opacity="0.9" stroke="#1d3b36" stroke-opacity="0.75"/>
<circle cx="783.6" cy="1014.2" r="12.0" fill="#52bca6" fill-opacity="0.9" stroke="#1d3b36" stroke-opacity="0.75"/>
<circle cx="769.1" cy="1052.7" r="12.0" fill="#3f86a3" fill-opacity="0.99" stroke="#0b1f29" stroke-opacity="1"/>
<circle cx="710.3" cy="1079.3" r="12.0" fill="#52bca6" fill-opacity="0.9" stroke="#1d3b36" stroke-opacity="0.75"/>
<circle cx="559.5" cy="947.0" r="12.0" fill="#52bca6" fill-opacity="0.9" stroke="#1d3b36" stroke-opacity="0.75"/>
<circle cx="571.3" cy="946.5" r="12.0" fill="#52bca6" fill-opacity="0.9" stroke="#1d3b36" stroke-opacity="0.75"/>
<circle cx="584.3" cy="953.3" r="12.0" fill="#52bca6" fill-opacity="0.9" stroke="#1d3b36" stroke-opacity="0.75"/>
<circle cx="551.7" cy="958.8" r="12.0" fill="#4fb8a0" fill-opacity="0.985" stroke="#0f2a25" stroke-opacity="1"/>
<circle cx="442.3" cy="1040.5" r="12.0" fill="#52bca6" fill-opacity="0.9" stroke="#1d3b36" stroke-opacity="0.75"/>
<circle cx="437.3" cy="1044.2" r="12.0" fill="#3f86a3" fill-opacity="0.99" stroke="#0b1f29" stroke-opacity="1"/>
<circle cx="484.9" cy="1060.2" r="12.0" fill="#52bca6" fill-opacity="0.84" stroke="#1d3b36" stroke-opacity="0.55"/>
<circle cx="502.9" cy="1064.3" r="12.0" fill="#52bca6" fill-opacity="0.84" stroke="#1d3b36" stroke-opacity="0.55"/>
<circle cx="508.2" cy="1084.0" r="12.0" fill="#3f86a3" fill-opacity="0.99" stroke="#0b1f29" stroke-opacity="1"/>
<circle cx="922.7" cy="778.0" r="12.0" fill="#4589aa" fill-opacity="0.88" stroke="#1c3440" stroke-opacity="0.6"/>
<circle cx="927.9" cy="790.5" r="12.0" fill="#4fb8a0" fill-opacity="0.985" stroke="#0f2a25" stroke-opacity="1"/>
<circle cx="1013.6" cy="785.5" r="12.0" fill="#52bca6" fill-opacity="0.9" stroke="#1d3b36" stroke-opacity="0.75"/>
<circle cx="1012.8" cy="800.5" r="12.0" fill="#4287a7" fill-opacity="0.95" stroke="#152a36" stroke-opacity="0.85"/>
<circle cx="1040.6" cy="788.0" r="12.0" fill="#4287a7" fill-opacity="0.95" stroke="#152a36" stroke-opacity="0.85"/>
<circle cx="1068.7" cy="784.3" r="12.0" fill="#52bca6" fill-opacity="0.9" stroke="#1d3b36" stroke-opacity="0.75"/>
<circle cx="1066.2" cy="780.5" r="12.0" fill="#3f86a3" fill-opacity="0.99" stroke="#0b1f29" stroke-opacity="1"/>
<circle cx="1100.0" cy="780.5" r="12.0" fill="#4287a7" fill-opacity="0.95" stroke="#152a36" stroke-opacity="0.85"/>
<circle cx="1178.9" cy="779.3" r="12.0" fill="#52bca6" fill-opacity="0.9" stroke="#1d3b36" stroke-opacity="0.75"/>
<circle cx="1145.0" cy="792.5" r="12.0" fill="#52bca6" fill-opacity="0.9" stroke="#1d3b36" stroke-opacity="0.75"/>
<circle cx="1170.6" cy="808.1" r="12.0" fill="#3f86a3" fill-opacity="0.99" stroke="#0b1f29" stroke-opacity="1"/>
<circle cx="1150.6" cy="816.8" r="12.0" fill="#52bca6" fill-opacity="0.9" stroke="#1d3b36" stroke-opacity="0.75"/>
<circle cx="1128.8" cy="823.6" r="12.0" fill="#4589aa" fill-opacity="0.88" stroke="#1c3440" stroke-opacity="0.6"/>
<circle cx="1098.0" cy="825.1" r="12.0" fill="#4287a7" fill-opacity="0.95" stroke="#152a36" stroke-opacity="0.85"/>
<circle cx="1075.7" cy="838.9" r="12.0" fill="#52bca6" fill-opacity="0.9" stroke="#1d3b36" stroke-opacity="0.75"/>
<circle cx="905.4" cy="814.8" r="12.0" fill="#4589aa" fill-opacity="0.88" stroke="#1c3440" stroke-opacity="0.6"/>
<circle cx="874.6" cy="840.6" r="12.0" fill="#52bca6" fill-opacity="0.9" stroke="#1d3b36" stroke-opacity="0.75"/>
<circle cx="918.4" cy="848.6" r="12.0" fill="#3f86a3" fill-opacity="0.99" stroke="#0b1f29" stroke-opacity="1"/>
<circle cx="994.8" cy="833.6" r="12.0" fill="#4287a7" fill-opacity="0.95" stroke="#152a36" stroke-opacity="0.85"/>
<circle cx="1037.4" cy="833.1" r="12.0" fill="#4fb8a0" fill-opacity="0.985" stroke="#0f2a25" stroke-opacity="1"/>
<circle cx="885.8" cy="875.7" r="12.0" fill="#3f86a3" fill-opacity="0.99" stroke="#0b1f29" stroke-opacity="1"/>
<circle cx="936.7" cy="874.4" r="12.0" fill="#3f86a3" fill-opacity="0.99" stroke="#0b1f29" stroke-opacity="1"/>
<circle cx="997.3" cy="878.7" r="12.0" fill="#3f86a3" fill-opacity="0.99" stroke="#0b1f29" stroke-opacity="1"/>
<circle cx="1043.1" cy="873.2" r="12.0" fill="#4287a7" fill-opacity="0.95" stroke="#152a36" stroke-opacity="0.85"/>
<circle cx="1069.4" cy="865.2" r="12.0" fill="#4589aa" fill-opacity="0.88" stroke="#1c3440" stroke-opacity="0.6"/>
<circle cx="1095.0" cy="866.9" r="12.0" fill="#52bca6" fill-opacity="0.9" stroke="#1d3b36" stroke-opacity="0.75"/>
<circle cx="1117.5" cy="865.7" r="12.0" fill="#4287a7" fill-opacity="0.95" stroke="#152a36" stroke-opacity="0.85"/>
<circle cx="1158.8" cy="856.9" r="12.0" fill="#3f86a3" fill-opacity="0.99" stroke="#0b1f29" stroke-opacity="1"/>
<circle cx="1198.1" cy="843.9" r="12.0" fill="#4589aa" fill-opacity="0.88" stroke="#1c3440" stroke-opacity="0.6"/>
<circle cx="1208.9" cy="854.9" r="12.0" fill="#52bca6" fill-opacity="0.9" stroke="#1d3b36" stroke-opacity="0.75"/>
<circle cx="1180.1" cy="875.7" r="12.0" fill="#4589aa" fill-opacity="0.88" stroke="#1c3440" stroke-opacity="0.6"/>
<circle cx="1188.1" cy="887.4" r="12.0" fill="#4287a7" fill-opacity="0.95" stroke="#152a36" stroke-opacity="0.85"/>
<circle cx="1209.4" cy="889.4" r="12.0" fill="#52bca6" fill-opacity="0.9" stroke="#1d3b36" stroke-opacity="0.75"/>
<circle cx="1130.0" cy="885.7" r="12.0" fill="#52bca6" fill-opacity="0.9" stroke="#1d3b36" stroke-opacity="0.75"/>
<circle cx="1143.3" cy="885.7" r="12.0" fill="#4589aa" fill-opacity="0.88" stroke="#1c3440" stroke-opacity="0.6"/>
<circle cx="1160.1" cy="889.9" r="12.0" fill="#52bca6" fill-opacity="0.9" stroke="#1d3b36" stroke-opacity="0.75"/>
<circle cx="1119.3" cy="900.0" r="12.0" fill="#4589aa" fill-opacity="0.88" stroke="#1c3440" stroke-opacity="0.6"/>
<circle cx="1150.6" cy="905.7" r="12.0" fill="#52bca6" fill-opacity="0.9" stroke="#1d3b36" stroke-opacity="0.75"/>
<circle cx="1196.9" cy="914.5" r="12.0" fill="#52bca6" fill-opacity="0.9" stroke="#1d3b36" stroke-opacity="0.75"/>
<circle cx="1218.9" cy="912.0" r="12.0" fill="#4287a7" fill-opacity="0.95" stroke="#152a36" stroke-opacity="0.85"/>
<circle cx="1189.4" cy="930.8" r="12.0" fill="#3f86a3" fill-opacity="0.99" stroke="#0b1f29" stroke-opacity="1"/>
<circle cx="1244.0" cy="893.2" r="12.0" fill="#52bca6" fill-opacity="0.9" stroke="#1d3b36" stroke-opacity="0.75"/>
<circle cx="1241.5" cy="809.3" r="12.0" fill="#4287a7" fill-opacity="0.95" stroke="#152a36" stroke-opacity="0.85"/>
<circle cx="1237.7" cy="785.5" r="12.0" fill="#4589aa" fill-opacity="0.88" stroke="#1c3440" stroke-opacity="0.6"/>
<circle cx="847.5" cy="885.2" r="12.0" fill="#52bca6" fill-opacity="0.9" stroke="#1d3b36" stroke-opacity="0.75"/>
<circle cx="855.8" cy="920.0" r="12.0" fill="#52bca6" fill-opacity="0.9" stroke="#1d3b36" stroke-opacity="0.75"/>
<circle cx="927.9" cy="919.0" r="12.0" fill="#4fb8a0" fill-opacity="0.985" stroke="#0f2a25" stroke-opacity="1"/>
<circle cx="971.0" cy="897.7" r="12.0" fill="#52bca6" fill-opacity="0.9" stroke="#1d3b36" stroke-opacity="0.75"/>
<circle cx="978.5" cy="911.5" r="12.0" fill="#3f86a3" fill-opacity="0.99" stroke="#0b1f29" stroke-opacity="1"/>
<circle cx="969.2" cy="949.6" r="12.0" fill="#3f86a3" fill-opacity="0.99" stroke="#0b1f29" stroke-opacity="1"/>
<circle cx="992.8" cy="945.8" r="12.0" fill="#52bca6" fill-opacity="0.84" stroke="#1d3b36" stroke-opacity="0.55"/>
<circle cx="1006.1" cy="964.6" r="12.0" fill="#3f86a3" fill-opacity="0.99" stroke="#0b1f29" stroke-opacity="1"/>
<circle cx="982.3" cy="973.3" r="12.0" fill="#52bca6" fill-opacity="0.9" stroke="#1d3b36" stroke-opacity="0.75"/>
<circle cx="942.9" cy="958.8" r="12.0" fill="#3f86a3" fill-opacity="0.99" stroke="#0b1f29" stroke-opacity="1"/>
<circle cx="904.6" cy="960.1" r="12.0" fill="#4589aa" fill-opacity="0.88" stroke="#1c3440" stroke-opacity="0.6"/>
<circle cx="876.6" cy="966.6" r="12.0" fill="#52bca6" fill-opacity="0.9" stroke="#1d3b36" stroke-opacity="0.75"/>
<circle cx="837.0" cy="979.1" r="12.0" fill="#4fb8a0" fill-opacity="0.985" stroke="#0f2a25" stroke-opacity="1"/>
<circle cx="1043.1" cy="946.3" r="12.0" fill="#4287a7" fill-opacity="0.95" stroke="#152a36" stroke-opacity="0.85"/>
<circle cx="1069.2" cy="933.8" r="12.0" fill="#4287a7" fill-opacity="0.95" stroke="#152a36" stroke-opacity="0.85"/>
<circle cx="1096.2" cy="942.0" r="12.0" fill="#4287a7" fill-opacity="0.95" stroke="#152a36" stroke-opacity="0.85"/>
<circle cx="1146.8" cy="945.8" r="12.0" fill="#3f86a3" fill-opacity="0.99" stroke="#0b1f29" stroke-opacity="1"/>
<circle cx="1270.3" cy="785.5" r="12.0" fill="#3f86a3" fill-opacity="0.99" stroke="#0b1f29" stroke-opacity="1"/>
<circle cx="1293.6" cy="785.5" r="12.0" fill="#4287a7" fill-opacity="0.95" stroke="#152a36" stroke-opacity="0.85"/>
<circle cx="1332.4" cy="781.8" r="12.0" fill="#3f86a3" fill-opacity="0.99" stroke="#0b1f29" stroke-opacity="1"/>
<circle cx="1256.0" cy="803.0" r="12.0" fill="#4fb8a0" fill-opacity="0.985" stroke="#0f2a25" stroke-opacity="1"/>
<circle cx="1279.8" cy="803.0" r="12.0" fill="#52bca6" fill-opacity="0.9" stroke="#1d3b36" stroke-opacity="0.75"/>
<circle cx="1267.8" cy="824.8" r="12.0" fill="#52bca6" fill-opacity="0.9" stroke="#1d3b36" stroke-opacity="0.75"/>
<circle cx="1311.9" cy="824.3" r="12.0" fill="#3f86a3" fill-opacity="0.99" stroke="#0b1f29" stroke-opacity="1"/>
<circle cx="1291.1" cy="842.6" r="12.0" fill="#3f86a3" fill-opacity="0.99" stroke="#0b1f29" stroke-opacity="1"/>
<circle cx="1263.5" cy="856.4" r="12.0" fill="#4589aa" fill-opacity="0.88" stroke="#1c3440" stroke-opacity="0.6"/>
<circle cx="1280.6" cy="856.4" r="12.0" fill="#52bca6" fill-opacity="0.9" stroke="#1d3b36" stroke-opacity="0.75"/>
<circle cx="1273.5" cy="892.5" r="12.0" fill="#52bca6" fill-opacity="0.9" stroke="#1d3b36" stroke-opacity="0.75"/>
<circle cx="1272.3" cy="923.3" r="12.0" fill="#3f86a3" fill-opacity="0.99" stroke="#0b1f29" stroke-opacity="1"/>
<circle cx="1272.3" cy="919.5" r="12.0" fill="#4fb8a0" fill-opacity="0.985" stroke="#0f2a25" stroke-opacity="1"/>
<circle cx="1255.5" cy="951.3" r="12.0" fill="#3f86a3" fill-opacity="0.99" stroke="#0b1f29" stroke-opacity="1"/>
<circle cx="1259.8" cy="981.4" r="12.0" fill="#52bca6" fill-opacity="0.9" stroke="#1d3b36" stroke-opacity="0.75"/>
<circle cx="1291.6" cy="987.6" r="12.0" fill="#4fb8a0" fill-opacity="0.985" stroke="#0f2a25" stroke-opacity="1"/>
<circle cx="1319.9" cy="1000.4" r="12.0" fill="#52bca6" fill-opacity="0.9" stroke="#1d3b36" stroke-opacity="0.75"/>
<circle cx="1314.4" cy="990.9" r="12.0" fill="#4589aa" fill-opacity="0.88" stroke="#1c3440" stroke-opacity="0.6"/>
<circle cx="1258.5" cy="1010.9" r="12.0" fill="#4fb8a0" fill-opacity="0.985" stroke="#0f2a25" stroke-opacity="1"/>
<circle cx="1259.8" cy="1013.4" r="12.0" fill="#3f86a3" fill-opacity="0.99" stroke="#0b1f29" stroke-opacity="1"/>
<circle cx="1332.4" cy="1022.2" r="12.0" fill="#52bca6" fill-opacity="0.9" stroke="#1d3b36" stroke-opacity="0.75"/>
<circle cx="1260.5" cy="1037.2" r="12.0" fill="#52bca6" fill-opacity="0.9" stroke="#1d3b36" stroke-opacity="0.75"/>
<circle cx="1316.6" cy="1050.5" r="12.0" fill="#52bca6" fill-opacity="0.9" stroke="#1d3b36" stroke-opacity="0.75"/>
<circle cx="1286.6" cy="1059.7" r="12.0" fill="#3f86a3" fill-opacity="0.99" stroke="#0b1f29" stroke-opacity="1"/>
<circle cx="1346.2" cy="1047.2" r="12.0" fill="#4589aa" fill-opacity="0.88" stroke="#1c3440" stroke-opacity="0.6"/>
<circle cx="1346.9" cy="1061.0" r="12.0" fill="#52bca6" fill-opacity="0.9" stroke="#1d3b36" stroke-opacity="0.75"/>
<circle cx="1347.4" cy="1082.3" r="12.0" fill="#3f86a3" fill-opacity="0.99" stroke="#0b1f29" stroke-opacity="1"/>
<circle cx="63.3" cy="1123.9" r="12.0" fill="#52bca6" fill-opacity="0.9" stroke="#1d3b36" stroke-opacity="0.75"/>
<circle cx="87.6" cy="1115.1" r="12.0" fill="#52bca6" fill-opacity="0.9" stroke="#1d3b36" stroke-opacity="0.75"/>
<circle cx="94.6" cy="1111.3" r="12.0" fill="#52bca6" fill-opacity="0.9" stroke="#1d3b36" stroke-opacity="0.75"/>
<circle cx="111.4" cy="1111.3" r="12.0" fill="#4fb8a0" fill-opacity="0.985" stroke="#0f2a25" stroke-opacity="1"/>
<circle cx="535.6" cy="1103.1" r="12.0" fill="#52bca6" fill-opacity="0.9" stroke="#1d3b36" stroke-opacity="0.75"/>
<circle cx="521.1" cy="1122.1" r="12.0" fill="#52bca6" fill-opacity="0.9" stroke="#1d3b36" stroke-opacity="0.75"/>
<circle cx="721.4" cy="1102.6" r="12.0" fill="#52bca6" fill-opacity="0.9" stroke="#1d3b36" stroke-opacity="0.75"/>
<circle cx="1323.1" cy="1125.1" r="12.0" fill="#52bca6" fill-opacity="0.84" stroke="#1d3b36" stroke-opacity="0.55"/>
</g></g></svg>
<div id="zoom"><div class="m"></div>
<b style="left:18px;top:28px;width:20px;height:4px;background:#666"></b>
<b style="left:26px;top:20px;width:4px;height:20px;background:#666"></b>
<b style="left:18px;top:86px;width:20px;height:4px;background:#888"></b>
</div>
<div id="foot">Map: Senate Appropriations Committee • Source: <a>Corporation for Public Broadcasting</a> • <a>Get the data</a> • Created with <a>Datawrapper</a></div>
</body>
</html>
